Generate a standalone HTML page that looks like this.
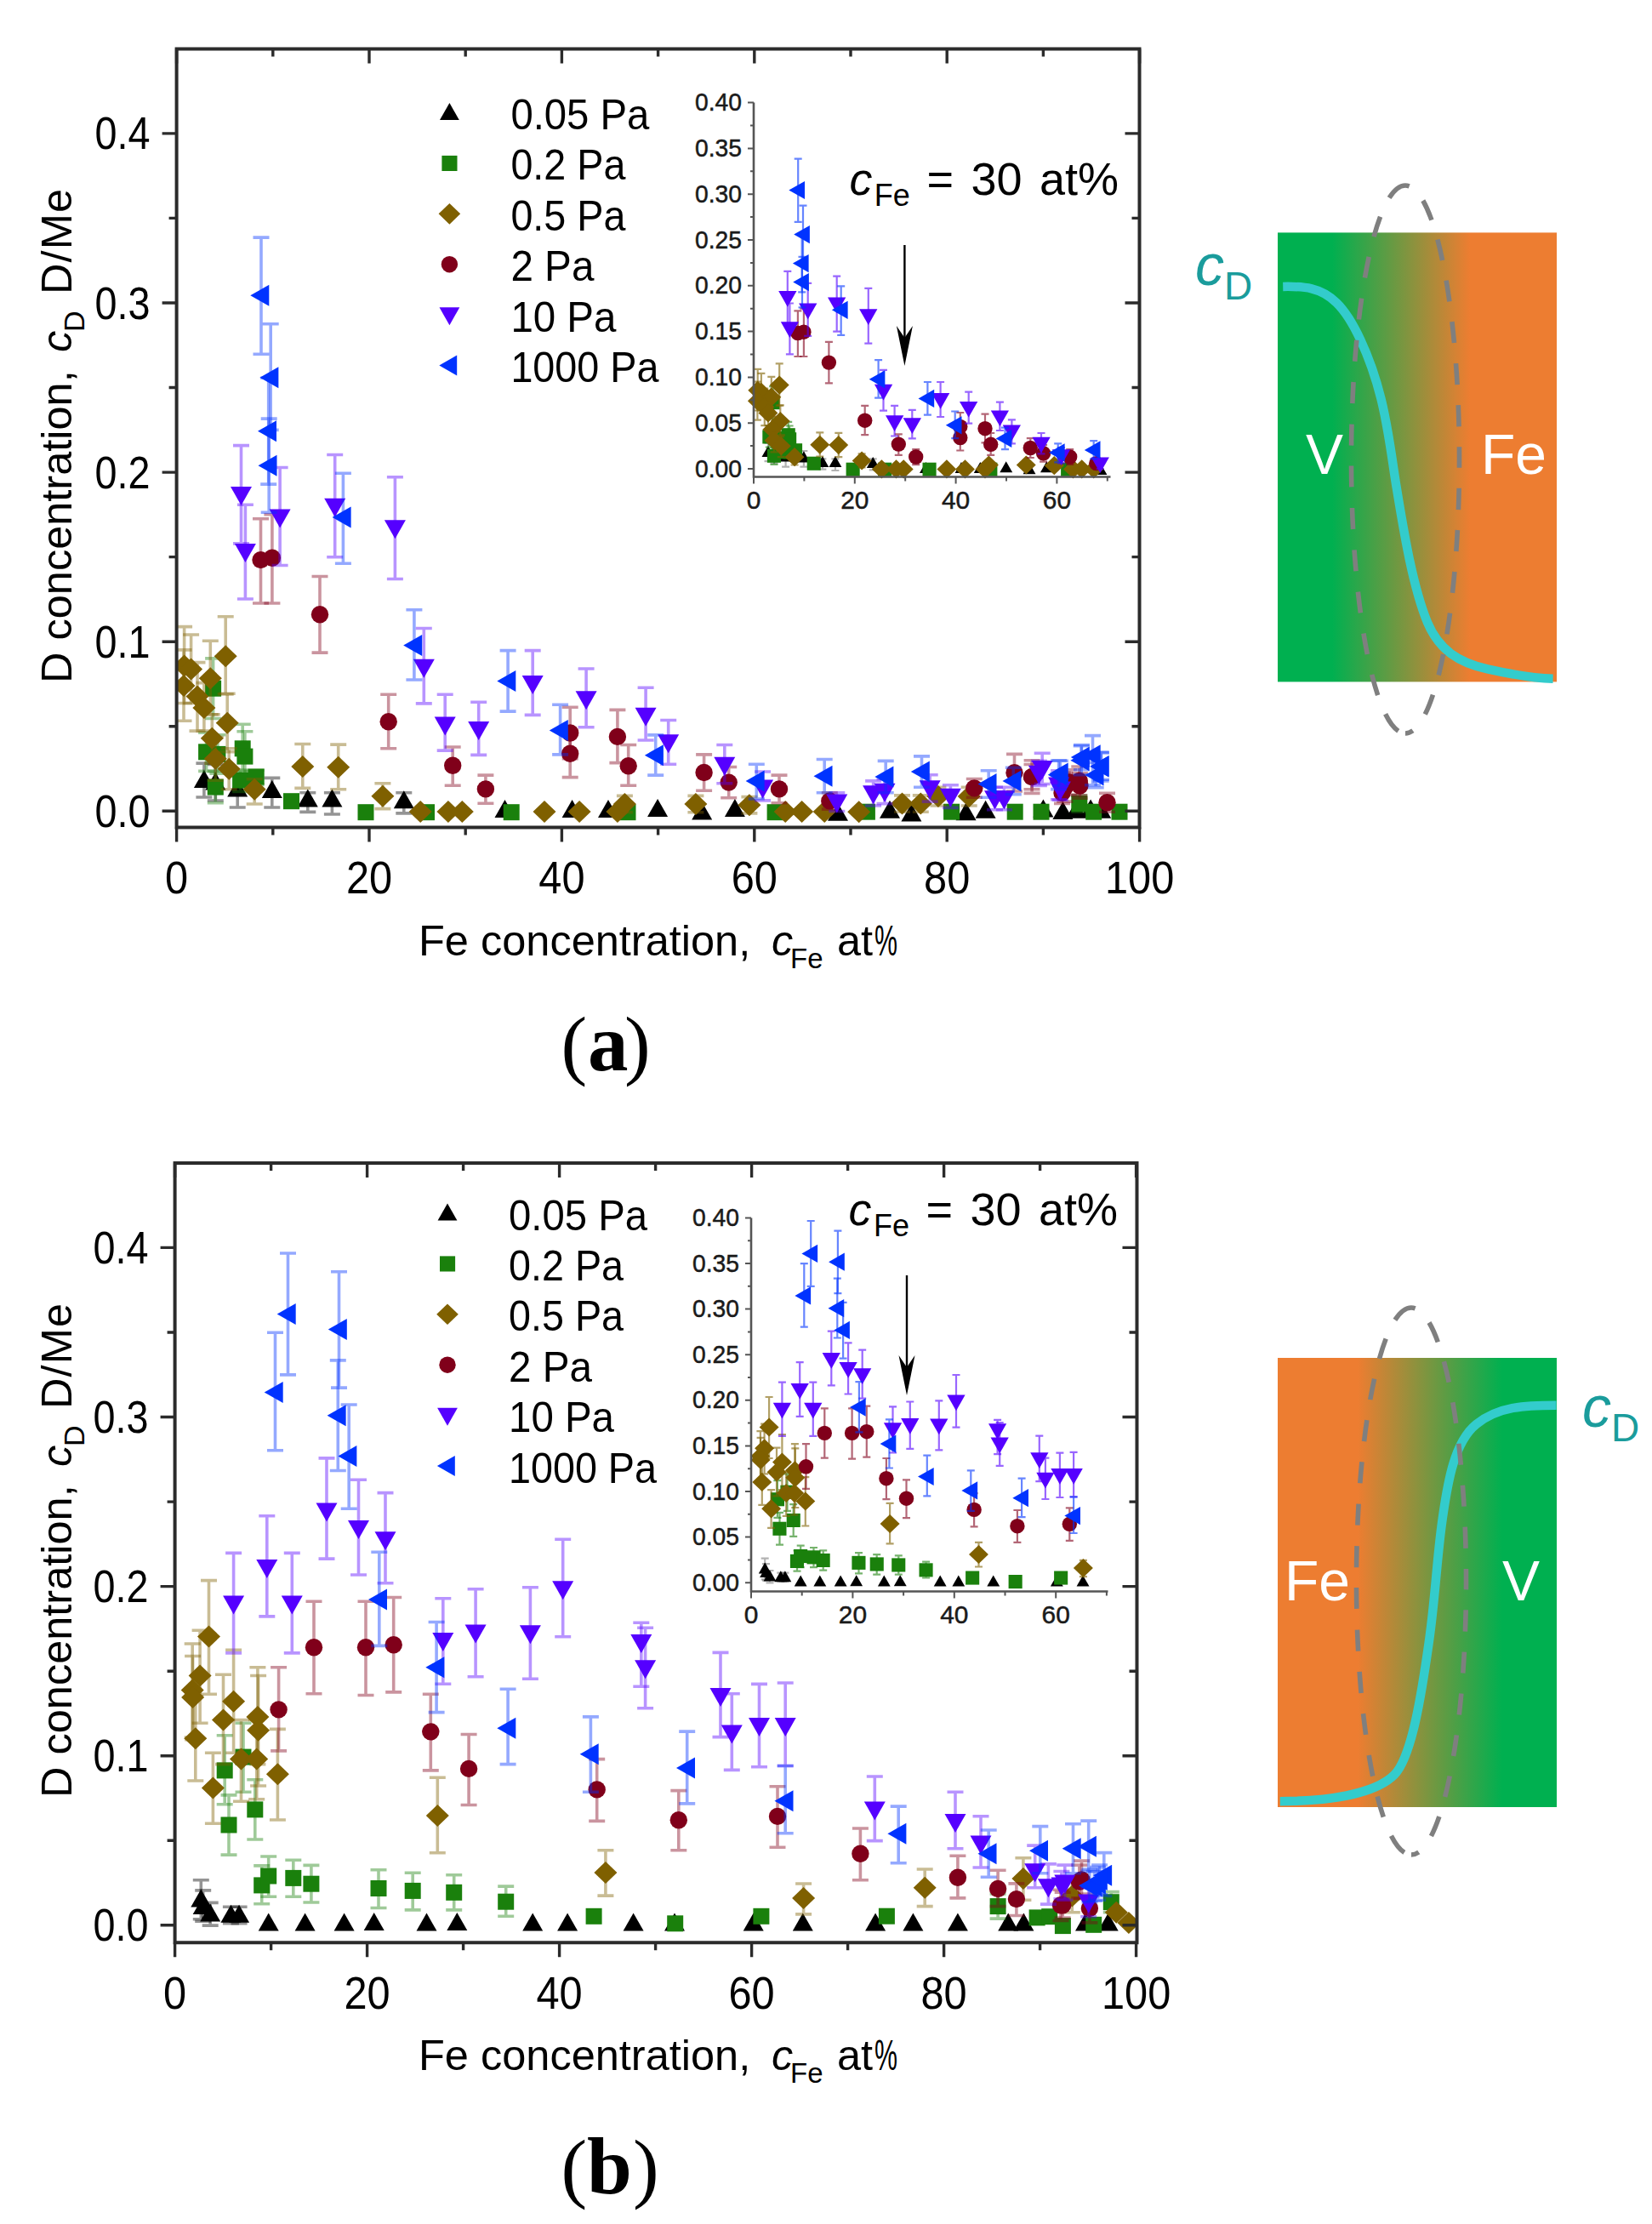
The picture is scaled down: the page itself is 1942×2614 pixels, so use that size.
<!DOCTYPE html>
<html lang="en"><head><meta charset="utf-8"><title>D concentration vs Fe concentration</title>
<style>
html,body{margin:0;padding:0;background:#fff}
body{width:1942px;height:2614px;overflow:hidden;font-family:"Liberation Sans", sans-serif}
svg{display:block}
text{white-space:pre}
</style></head><body>
<svg width="1942" height="2614" viewBox="0 0 1942 2614" font-family='"Liberation Sans", sans-serif'>
<rect width="1942" height="2614" fill="#fff"/>
<g id="chart-a"><clipPath id="clipa"><rect x="207.6" y="57.5" width="1131.9" height="915.0"/></clipPath><g clip-path="url(#clipa)">
<path d="M239.9 897.1V937.0M230.4 897.1H249.4M230.4 937.0H249.4" stroke="#000000" stroke-width="3.6" stroke-opacity="0.42" fill="none"/>
<path d="M253.3 898.4V941.0M243.8 898.4H262.8M243.8 941.0H262.8" stroke="#000000" stroke-width="3.6" stroke-opacity="0.42" fill="none"/>
<path d="M279.2 911.7V949.0M269.7 911.7H288.7M269.7 949.0H288.7" stroke="#000000" stroke-width="3.6" stroke-opacity="0.42" fill="none"/>
<path d="M319.8 914.4V949.0M310.3 914.4H329.3M310.3 949.0H329.3" stroke="#000000" stroke-width="3.6" stroke-opacity="0.42" fill="none"/>
<path d="M361.8 931.7V954.4M352.3 931.7H371.3M352.3 954.4H371.3" stroke="#000000" stroke-width="3.6" stroke-opacity="0.42" fill="none"/>
<path d="M390.4 931.7V957.0M380.9 931.7H399.9M380.9 957.0H399.9" stroke="#000000" stroke-width="3.6" stroke-opacity="0.42" fill="none"/>
<path d="M474.8 931.7V955.9M465.3 931.7H484.3M465.3 955.9H484.3" stroke="#000000" stroke-width="3.6" stroke-opacity="0.42" fill="none"/>
<path d="M227.9 925.9L251.9 925.9L239.9 904.9Z" fill="#000000"/>
<path d="M241.3 928.6L265.3 928.6L253.3 907.6Z" fill="#000000"/>
<path d="M267.2 936.5L291.2 936.5L279.2 915.5Z" fill="#000000"/>
<path d="M307.8 937.9L331.8 937.9L319.8 916.9Z" fill="#000000"/>
<path d="M349.8 948.5L373.8 948.5L361.8 927.5Z" fill="#000000"/>
<path d="M378.4 948.5L402.4 948.5L390.4 927.5Z" fill="#000000"/>
<path d="M462.8 950.2L486.8 950.2L474.8 929.2Z" fill="#000000"/>
<path d="M581.5 961.1L605.5 961.1L593.5 940.1Z" fill="#000000"/>
<path d="M660.6 961.1L684.6 961.1L672.6 940.1Z" fill="#000000"/>
<path d="M703.0 961.1L727.0 961.1L715.0 940.1Z" fill="#000000"/>
<path d="M761.1 959.9L785.1 959.9L773.1 938.9Z" fill="#000000"/>
<path d="M813.2 963.5L837.2 963.5L825.2 942.5Z" fill="#000000"/>
<path d="M851.9 959.9L875.9 959.9L863.9 938.9Z" fill="#000000"/>
<path d="M973.0 964.8L997.0 964.8L985.0 943.8Z" fill="#000000"/>
<path d="M1034.0 961.8L1058.0 961.8L1046.0 940.8Z" fill="#000000"/>
<path d="M1059.4 965.5L1083.4 965.5L1071.4 944.5Z" fill="#000000"/>
<path d="M1123.6 964.3L1147.6 964.3L1135.6 943.3Z" fill="#000000"/>
<path d="M1146.6 961.8L1170.6 961.8L1158.6 940.8Z" fill="#000000"/>
<path d="M1214.4 960.6L1238.4 960.6L1226.4 939.6Z" fill="#000000"/>
<path d="M1237.4 963.1L1261.4 963.1L1249.4 942.1Z" fill="#000000"/>
<path d="M1253.1 961.8L1277.1 961.8L1265.1 940.8Z" fill="#000000"/>
<path d="M1270.1 960.6L1294.1 960.6L1282.1 939.6Z" fill="#000000"/>
<path d="M1282.2 961.8L1306.2 961.8L1294.2 940.8Z" fill="#000000"/>
<path d="M250.6 773.9V844.5M241.1 773.9H260.1M241.1 844.5H260.1" stroke="#1a800c" stroke-width="3.6" stroke-opacity="0.42" fill="none"/>
<path d="M242.6 861.1V906.4M233.1 861.1H252.1M233.1 906.4H252.1" stroke="#1a800c" stroke-width="3.6" stroke-opacity="0.42" fill="none"/>
<path d="M255.9 863.8V909.1M246.4 863.8H265.4M246.4 909.1H265.4" stroke="#1a800c" stroke-width="3.6" stroke-opacity="0.42" fill="none"/>
<path d="M285.2 851.2V906.4M275.7 851.2H294.7M275.7 906.4H294.7" stroke="#1a800c" stroke-width="3.6" stroke-opacity="0.42" fill="none"/>
<path d="M287.9 859.8V917.1M278.4 859.8H297.4M278.4 917.1H297.4" stroke="#1a800c" stroke-width="3.6" stroke-opacity="0.42" fill="none"/>
<path d="M253.3 906.4V943.7M243.8 906.4H262.8M243.8 943.7H262.8" stroke="#1a800c" stroke-width="3.6" stroke-opacity="0.42" fill="none"/>
<path d="M282.6 905.1V930.4M273.1 905.1H292.1M273.1 930.4H292.1" stroke="#1a800c" stroke-width="3.6" stroke-opacity="0.42" fill="none"/>
<path d="M301.2 905.1V922.4M291.7 905.1H310.7M291.7 922.4H310.7" stroke="#1a800c" stroke-width="3.6" stroke-opacity="0.42" fill="none"/>
<path d="M1268.8 934.9V954.2M1259.3 934.9H1278.3M1259.3 954.2H1278.3" stroke="#1a800c" stroke-width="3.6" stroke-opacity="0.42" fill="none"/>
<rect x="241.1" y="799.7" width="19.0" height="19.0" fill="#1a800c"/>
<rect x="233.1" y="874.3" width="19.0" height="19.0" fill="#1a800c"/>
<rect x="246.4" y="876.9" width="19.0" height="19.0" fill="#1a800c"/>
<rect x="275.7" y="870.3" width="19.0" height="19.0" fill="#1a800c"/>
<rect x="278.4" y="879.6" width="19.0" height="19.0" fill="#1a800c"/>
<rect x="243.8" y="915.6" width="19.0" height="19.0" fill="#1a800c"/>
<rect x="273.1" y="907.6" width="19.0" height="19.0" fill="#1a800c"/>
<rect x="291.7" y="903.6" width="19.0" height="19.0" fill="#1a800c"/>
<rect x="333.0" y="932.2" width="19.0" height="19.0" fill="#1a800c"/>
<rect x="420.5" y="945.2" width="19.0" height="19.0" fill="#1a800c"/>
<rect x="492.0" y="945.2" width="19.0" height="19.0" fill="#1a800c"/>
<rect x="591.7" y="945.2" width="19.0" height="19.0" fill="#1a800c"/>
<rect x="728.5" y="945.2" width="19.0" height="19.0" fill="#1a800c"/>
<rect x="901.6" y="945.2" width="19.0" height="19.0" fill="#1a800c"/>
<rect x="1009.9" y="944.7" width="19.0" height="19.0" fill="#1a800c"/>
<rect x="1109.1" y="944.7" width="19.0" height="19.0" fill="#1a800c"/>
<rect x="1183.7" y="944.7" width="19.0" height="19.0" fill="#1a800c"/>
<rect x="1214.5" y="944.7" width="19.0" height="19.0" fill="#1a800c"/>
<rect x="1259.3" y="935.1" width="19.0" height="19.0" fill="#1a800c"/>
<rect x="1306.5" y="944.7" width="19.0" height="19.0" fill="#1a800c"/>
<rect x="1276.2" y="944.7" width="19.0" height="19.0" fill="#1a800c"/>
<path d="M216.6 736.6V826.5M207.1 736.6H226.1M207.1 826.5H226.1" stroke="#7f6000" stroke-width="3.6" stroke-opacity="0.42" fill="none"/>
<path d="M224.6 746.0V826.5M215.1 746.0H234.1M215.1 826.5H234.1" stroke="#7f6000" stroke-width="3.6" stroke-opacity="0.42" fill="none"/>
<path d="M216.0 763.9V847.2M206.5 763.9H225.5M206.5 847.2H225.5" stroke="#7f6000" stroke-width="3.6" stroke-opacity="0.42" fill="none"/>
<path d="M247.3 753.3V839.8M237.8 753.3H256.8M237.8 839.8H256.8" stroke="#7f6000" stroke-width="3.6" stroke-opacity="0.42" fill="none"/>
<path d="M265.2 724.7V815.9M255.7 724.7H274.7M255.7 815.9H274.7" stroke="#7f6000" stroke-width="3.6" stroke-opacity="0.42" fill="none"/>
<path d="M232.0 778.6V859.1M222.5 778.6H241.5M222.5 859.1H241.5" stroke="#7f6000" stroke-width="3.6" stroke-opacity="0.42" fill="none"/>
<path d="M239.9 802.6V859.1M230.4 802.6H249.4M230.4 859.1H249.4" stroke="#7f6000" stroke-width="3.6" stroke-opacity="0.42" fill="none"/>
<path d="M267.2 815.2V883.8M257.7 815.2H276.7M257.7 883.8H276.7" stroke="#7f6000" stroke-width="3.6" stroke-opacity="0.42" fill="none"/>
<path d="M249.3 839.8V897.1M239.8 839.8H258.8M239.8 897.1H258.8" stroke="#7f6000" stroke-width="3.6" stroke-opacity="0.42" fill="none"/>
<path d="M253.3 866.5V917.1M243.8 866.5H262.8M243.8 917.1H262.8" stroke="#7f6000" stroke-width="3.6" stroke-opacity="0.42" fill="none"/>
<path d="M269.2 879.8V927.7M259.7 879.8H278.7M259.7 927.7H278.7" stroke="#7f6000" stroke-width="3.6" stroke-opacity="0.42" fill="none"/>
<path d="M299.2 915.7V945.0M289.7 915.7H308.7M289.7 945.0H308.7" stroke="#7f6000" stroke-width="3.6" stroke-opacity="0.42" fill="none"/>
<path d="M355.8 874.5V926.4M346.3 874.5H365.3M346.3 926.4H365.3" stroke="#7f6000" stroke-width="3.6" stroke-opacity="0.42" fill="none"/>
<path d="M397.7 875.1V927.7M388.2 875.1H407.2M388.2 927.7H407.2" stroke="#7f6000" stroke-width="3.6" stroke-opacity="0.42" fill="none"/>
<path d="M449.9 920.8V950.6M440.4 920.8H459.4M440.4 950.6H459.4" stroke="#7f6000" stroke-width="3.6" stroke-opacity="0.42" fill="none"/>
<path d="M734.4 935.4V954.7M724.9 935.4H743.9M724.9 954.7H743.9" stroke="#7f6000" stroke-width="3.6" stroke-opacity="0.42" fill="none"/>
<path d="M817.9 935.4V954.7M808.4 935.4H827.4M808.4 954.7H827.4" stroke="#7f6000" stroke-width="3.6" stroke-opacity="0.42" fill="none"/>
<path d="M880.9 936.6V955.9M871.4 936.6H890.4M871.4 955.9H890.4" stroke="#7f6000" stroke-width="3.6" stroke-opacity="0.42" fill="none"/>
<path d="M1060.5 934.9V954.2M1051.0 934.9H1070.0M1051.0 954.2H1070.0" stroke="#7f6000" stroke-width="3.6" stroke-opacity="0.42" fill="none"/>
<path d="M1082.3 934.9V954.2M1072.8 934.9H1091.8M1072.8 954.2H1091.8" stroke="#7f6000" stroke-width="3.6" stroke-opacity="0.42" fill="none"/>
<path d="M1102.9 925.2V947.0M1093.4 925.2H1112.4M1093.4 947.0H1112.4" stroke="#7f6000" stroke-width="3.6" stroke-opacity="0.42" fill="none"/>
<path d="M1139.2 925.2V947.0M1129.7 925.2H1148.7M1129.7 947.0H1148.7" stroke="#7f6000" stroke-width="3.6" stroke-opacity="0.42" fill="none"/>
<path d="M203.1 782.6L216.6 769.6L230.1 782.6L216.6 795.6Z" fill="#7f6000"/>
<path d="M211.1 786.6L224.6 773.6L238.1 786.6L224.6 799.6Z" fill="#7f6000"/>
<path d="M202.5 805.9L216.0 792.9L229.5 805.9L216.0 818.9Z" fill="#7f6000"/>
<path d="M233.8 797.2L247.3 784.2L260.8 797.2L247.3 810.2Z" fill="#7f6000"/>
<path d="M251.7 771.3L265.2 758.3L278.7 771.3L265.2 784.3Z" fill="#7f6000"/>
<path d="M218.5 818.5L232.0 805.5L245.5 818.5L232.0 831.5Z" fill="#7f6000"/>
<path d="M226.4 831.9L239.9 818.9L253.4 831.9L239.9 844.9Z" fill="#7f6000"/>
<path d="M253.7 849.8L267.2 836.8L280.7 849.8L267.2 862.8Z" fill="#7f6000"/>
<path d="M235.8 867.8L249.3 854.8L262.8 867.8L249.3 880.8Z" fill="#7f6000"/>
<path d="M239.8 891.8L253.3 878.8L266.8 891.8L253.3 904.8Z" fill="#7f6000"/>
<path d="M255.7 903.8L269.2 890.8L282.7 903.8L269.2 916.8Z" fill="#7f6000"/>
<path d="M285.7 927.7L299.2 914.7L312.7 927.7L299.2 940.7Z" fill="#7f6000"/>
<path d="M342.3 901.1L355.8 888.1L369.3 901.1L355.8 914.1Z" fill="#7f6000"/>
<path d="M384.2 901.8L397.7 888.8L411.2 901.8L397.7 914.8Z" fill="#7f6000"/>
<path d="M436.4 935.8L449.9 922.8L463.4 935.8L449.9 948.8Z" fill="#7f6000"/>
<path d="M480.7 954.0L494.2 941.0L507.7 954.0L494.2 967.0Z" fill="#7f6000"/>
<path d="M513.4 954.0L526.9 941.0L540.4 954.0L526.9 967.0Z" fill="#7f6000"/>
<path d="M529.8 954.0L543.3 941.0L556.8 954.0L543.3 967.0Z" fill="#7f6000"/>
<path d="M626.5 954.0L640.0 941.0L653.5 954.0L640.0 967.0Z" fill="#7f6000"/>
<path d="M667.6 954.0L681.1 941.0L694.6 954.0L681.1 967.0Z" fill="#7f6000"/>
<path d="M712.4 954.0L725.9 941.0L739.4 954.0L725.9 967.0Z" fill="#7f6000"/>
<path d="M720.9 945.0L734.4 932.0L747.9 945.0L734.4 958.0Z" fill="#7f6000"/>
<path d="M804.4 945.0L817.9 932.0L831.4 945.0L817.9 958.0Z" fill="#7f6000"/>
<path d="M867.4 946.2L880.9 933.2L894.4 946.2L880.9 959.2Z" fill="#7f6000"/>
<path d="M909.7 954.0L923.2 941.0L936.7 954.0L923.2 967.0Z" fill="#7f6000"/>
<path d="M929.1 954.0L942.6 941.0L956.1 954.0L942.6 967.0Z" fill="#7f6000"/>
<path d="M955.7 954.0L969.2 941.0L982.7 954.0L969.2 967.0Z" fill="#7f6000"/>
<path d="M996.2 954.2L1009.7 941.2L1023.2 954.2L1009.7 967.2Z" fill="#7f6000"/>
<path d="M1047.0 944.6L1060.5 931.6L1074.0 944.6L1060.5 957.6Z" fill="#7f6000"/>
<path d="M1068.8 944.6L1082.3 931.6L1095.8 944.6L1082.3 957.6Z" fill="#7f6000"/>
<path d="M1089.4 936.1L1102.9 923.1L1116.4 936.1L1102.9 949.1Z" fill="#7f6000"/>
<path d="M1125.7 936.1L1139.2 923.1L1152.7 936.1L1139.2 949.1Z" fill="#7f6000"/>
<path d="M306.5 609.7V709.0M297.0 609.7H316.0M297.0 709.0H316.0" stroke="#80001a" stroke-width="3.6" stroke-opacity="0.42" fill="none"/>
<path d="M319.9 604.8V709.0M310.4 604.8H329.4M310.4 709.0H329.4" stroke="#80001a" stroke-width="3.6" stroke-opacity="0.42" fill="none"/>
<path d="M376.0 677.5V767.1M366.5 677.5H385.5M366.5 767.1H385.5" stroke="#80001a" stroke-width="3.6" stroke-opacity="0.42" fill="none"/>
<path d="M456.7 816.2V879.7M447.2 816.2H466.2M447.2 879.7H466.2" stroke="#80001a" stroke-width="3.6" stroke-opacity="0.42" fill="none"/>
<path d="M532.2 878.0V923.2M522.7 878.0H541.7M522.7 923.2H541.7" stroke="#80001a" stroke-width="3.6" stroke-opacity="0.42" fill="none"/>
<path d="M570.9 911.1V944.3M561.4 911.1H580.4M561.4 944.3H580.4" stroke="#80001a" stroke-width="3.6" stroke-opacity="0.42" fill="none"/>
<path d="M670.2 831.2V891.8M660.7 831.2H679.7M660.7 891.8H679.7" stroke="#80001a" stroke-width="3.6" stroke-opacity="0.42" fill="none"/>
<path d="M670.2 857.9V913.6M660.7 857.9H679.7M660.7 913.6H679.7" stroke="#80001a" stroke-width="3.6" stroke-opacity="0.42" fill="none"/>
<path d="M725.9 834.4V896.6M716.4 834.4H735.4M716.4 896.6H735.4" stroke="#80001a" stroke-width="3.6" stroke-opacity="0.42" fill="none"/>
<path d="M738.7 875.5V923.2M729.2 875.5H748.2M729.2 923.2H748.2" stroke="#80001a" stroke-width="3.6" stroke-opacity="0.42" fill="none"/>
<path d="M827.6 886.9V929.3M818.1 886.9H837.1M818.1 929.3H837.1" stroke="#80001a" stroke-width="3.6" stroke-opacity="0.42" fill="none"/>
<path d="M856.7 901.5V937.8M847.2 901.5H866.2M847.2 937.8H866.2" stroke="#80001a" stroke-width="3.6" stroke-opacity="0.42" fill="none"/>
<path d="M916.0 911.1V943.8M906.5 911.1H925.5M906.5 943.8H925.5" stroke="#80001a" stroke-width="3.6" stroke-opacity="0.42" fill="none"/>
<path d="M975.3 931.7V951.1M965.8 931.7H984.8M965.8 951.1H984.8" stroke="#80001a" stroke-width="3.6" stroke-opacity="0.42" fill="none"/>
<path d="M1145.3 915.5V937.3M1135.8 915.5H1154.8M1135.8 937.3H1154.8" stroke="#80001a" stroke-width="3.6" stroke-opacity="0.42" fill="none"/>
<path d="M1192.5 886.4V930.0M1183.0 886.4H1202.0M1183.0 930.0H1202.0" stroke="#80001a" stroke-width="3.6" stroke-opacity="0.42" fill="none"/>
<path d="M1213.1 893.7V932.4M1203.6 893.7H1222.6M1203.6 932.4H1222.6" stroke="#80001a" stroke-width="3.6" stroke-opacity="0.42" fill="none"/>
<path d="M1251.8 908.2V942.1M1242.3 908.2H1261.3M1242.3 942.1H1261.3" stroke="#80001a" stroke-width="3.6" stroke-opacity="0.42" fill="none"/>
<path d="M1268.8 901.0V934.9M1259.3 901.0H1278.3M1259.3 934.9H1278.3" stroke="#80001a" stroke-width="3.6" stroke-opacity="0.42" fill="none"/>
<path d="M1301.5 932.4V954.2M1292.0 932.4H1311.0M1292.0 954.2H1311.0" stroke="#80001a" stroke-width="3.6" stroke-opacity="0.42" fill="none"/>
<path d="M1213.0 898.5V927.7M1203.5 898.5H1222.5M1203.5 927.7H1222.5" stroke="#80001a" stroke-width="3.6" stroke-opacity="0.42" fill="none"/>
<path d="M1256.9 904.7V934.0M1247.4 904.7H1266.4M1247.4 934.0H1266.4" stroke="#80001a" stroke-width="3.6" stroke-opacity="0.42" fill="none"/>
<path d="M1269.4 908.9V938.2M1259.9 908.9H1278.9M1259.9 938.2H1278.9" stroke="#80001a" stroke-width="3.6" stroke-opacity="0.42" fill="none"/>
<path d="M1248.5 919.4V944.4M1239.0 919.4H1258.0M1239.0 944.4H1258.0" stroke="#80001a" stroke-width="3.6" stroke-opacity="0.42" fill="none"/>
<circle cx="306.5" cy="658.1" r="10.2" fill="#80001a"/>
<circle cx="319.9" cy="655.7" r="10.2" fill="#80001a"/>
<circle cx="376.0" cy="722.3" r="10.2" fill="#80001a"/>
<circle cx="456.7" cy="848.2" r="10.2" fill="#80001a"/>
<circle cx="532.2" cy="899.8" r="10.2" fill="#80001a"/>
<circle cx="570.9" cy="927.4" r="10.2" fill="#80001a"/>
<circle cx="670.2" cy="861.5" r="10.2" fill="#80001a"/>
<circle cx="670.2" cy="885.7" r="10.2" fill="#80001a"/>
<circle cx="725.9" cy="865.9" r="10.2" fill="#80001a"/>
<circle cx="738.7" cy="900.2" r="10.2" fill="#80001a"/>
<circle cx="827.6" cy="908.0" r="10.2" fill="#80001a"/>
<circle cx="856.7" cy="919.6" r="10.2" fill="#80001a"/>
<circle cx="916.0" cy="927.4" r="10.2" fill="#80001a"/>
<circle cx="975.3" cy="941.4" r="10.2" fill="#80001a"/>
<circle cx="1145.3" cy="926.4" r="10.2" fill="#80001a"/>
<circle cx="1192.5" cy="908.2" r="10.2" fill="#80001a"/>
<circle cx="1213.1" cy="913.1" r="10.2" fill="#80001a"/>
<circle cx="1251.8" cy="925.2" r="10.2" fill="#80001a"/>
<circle cx="1268.8" cy="917.9" r="10.2" fill="#80001a"/>
<circle cx="1301.5" cy="943.3" r="10.2" fill="#80001a"/>
<circle cx="1213.0" cy="913.1" r="10.2" fill="#80001a"/>
<circle cx="1256.9" cy="919.4" r="10.2" fill="#80001a"/>
<circle cx="1269.4" cy="923.5" r="10.2" fill="#80001a"/>
<circle cx="1248.5" cy="931.9" r="10.2" fill="#80001a"/>
<path d="M283.5 523.6V638.9M274.0 523.6H293.0M274.0 638.9H293.0" stroke="#5500ff" stroke-width="3.6" stroke-opacity="0.42" fill="none"/>
<path d="M288.4 593.3V704.0M278.9 593.3H297.9M278.9 704.0H297.9" stroke="#5500ff" stroke-width="3.6" stroke-opacity="0.42" fill="none"/>
<path d="M329.1 549.5V664.5M319.6 549.5H338.6M319.6 664.5H338.6" stroke="#5500ff" stroke-width="3.6" stroke-opacity="0.42" fill="none"/>
<path d="M393.7 534.5V654.8M384.2 534.5H403.2M384.2 654.8H403.2" stroke="#5500ff" stroke-width="3.6" stroke-opacity="0.42" fill="none"/>
<path d="M464.4 560.7V680.5M454.9 560.7H473.9M454.9 680.5H473.9" stroke="#5500ff" stroke-width="3.6" stroke-opacity="0.42" fill="none"/>
<path d="M498.3 738.5V826.9M488.8 738.5H507.8M488.8 826.9H507.8" stroke="#5500ff" stroke-width="3.6" stroke-opacity="0.42" fill="none"/>
<path d="M523.2 816.2V882.1M513.7 816.2H532.7M513.7 882.1H532.7" stroke="#5500ff" stroke-width="3.6" stroke-opacity="0.42" fill="none"/>
<path d="M562.7 825.2V887.4M553.2 825.2H572.2M553.2 887.4H572.2" stroke="#5500ff" stroke-width="3.6" stroke-opacity="0.42" fill="none"/>
<path d="M626.2 764.6V840.4M616.7 764.6H635.7M616.7 840.4H635.7" stroke="#5500ff" stroke-width="3.6" stroke-opacity="0.42" fill="none"/>
<path d="M689.1 786.0V854.7M679.6 786.0H698.6M679.6 854.7H698.6" stroke="#5500ff" stroke-width="3.6" stroke-opacity="0.42" fill="none"/>
<path d="M759.1 808.2V870.0M749.6 808.2H768.6M749.6 870.0H768.6" stroke="#5500ff" stroke-width="3.6" stroke-opacity="0.42" fill="none"/>
<path d="M785.7 846.5V898.3M776.2 846.5H795.2M776.2 898.3H795.2" stroke="#5500ff" stroke-width="3.6" stroke-opacity="0.42" fill="none"/>
<path d="M851.8 875.5V920.8M842.3 875.5H861.3M842.3 920.8H861.3" stroke="#5500ff" stroke-width="3.6" stroke-opacity="0.42" fill="none"/>
<path d="M896.6 907.0V940.9M887.1 907.0H906.1M887.1 940.9H906.1" stroke="#5500ff" stroke-width="3.6" stroke-opacity="0.42" fill="none"/>
<path d="M983.8 931.7V953.5M974.3 931.7H993.3M974.3 953.5H993.3" stroke="#5500ff" stroke-width="3.6" stroke-opacity="0.42" fill="none"/>
<path d="M1026.6 917.9V947.0M1017.1 917.9H1036.1M1017.1 947.0H1036.1" stroke="#5500ff" stroke-width="3.6" stroke-opacity="0.42" fill="none"/>
<path d="M1040.0 915.5V944.6M1030.5 915.5H1049.5M1030.5 944.6H1049.5" stroke="#5500ff" stroke-width="3.6" stroke-opacity="0.42" fill="none"/>
<path d="M1093.2 910.7V942.1M1083.7 910.7H1102.7M1083.7 942.1H1102.7" stroke="#5500ff" stroke-width="3.6" stroke-opacity="0.42" fill="none"/>
<path d="M1117.4 922.8V949.4M1107.9 922.8H1126.9M1107.9 949.4H1126.9" stroke="#5500ff" stroke-width="3.6" stroke-opacity="0.42" fill="none"/>
<path d="M1169.5 925.2V951.8M1160.0 925.2H1179.0M1160.0 951.8H1179.0" stroke="#5500ff" stroke-width="3.6" stroke-opacity="0.42" fill="none"/>
<path d="M1180.4 925.2V951.8M1170.9 925.2H1189.9M1170.9 951.8H1189.9" stroke="#5500ff" stroke-width="3.6" stroke-opacity="0.42" fill="none"/>
<path d="M1225.2 885.2V921.5M1215.7 885.2H1234.7M1215.7 921.5H1234.7" stroke="#5500ff" stroke-width="3.6" stroke-opacity="0.42" fill="none"/>
<path d="M1244.6 905.8V939.7M1235.1 905.8H1254.1M1235.1 939.7H1254.1" stroke="#5500ff" stroke-width="3.6" stroke-opacity="0.42" fill="none"/>
<path d="M1221.4 894.3V923.5M1211.9 894.3H1230.9M1211.9 923.5H1230.9" stroke="#5500ff" stroke-width="3.6" stroke-opacity="0.42" fill="none"/>
<path d="M1246.4 915.2V940.3M1236.9 915.2H1255.9M1236.9 940.3H1255.9" stroke="#5500ff" stroke-width="3.6" stroke-opacity="0.42" fill="none"/>
<path d="M271.0 572.0L296.0 572.0L283.5 594.0Z" fill="#5500ff"/>
<path d="M275.9 639.1L300.9 639.1L288.4 661.1Z" fill="#5500ff"/>
<path d="M316.6 598.6L341.6 598.6L329.1 620.6Z" fill="#5500ff"/>
<path d="M381.2 585.8L406.2 585.8L393.7 607.8Z" fill="#5500ff"/>
<path d="M451.9 611.2L476.9 611.2L464.4 633.2Z" fill="#5500ff"/>
<path d="M485.8 774.8L510.8 774.8L498.3 796.8Z" fill="#5500ff"/>
<path d="M510.7 842.6L535.7 842.6L523.2 864.6Z" fill="#5500ff"/>
<path d="M550.2 848.1L575.2 848.1L562.7 870.1Z" fill="#5500ff"/>
<path d="M613.7 794.1L638.7 794.1L626.2 816.1Z" fill="#5500ff"/>
<path d="M676.6 812.3L701.6 812.3L689.1 834.3Z" fill="#5500ff"/>
<path d="M746.6 831.7L771.6 831.7L759.1 853.7Z" fill="#5500ff"/>
<path d="M773.2 863.2L798.2 863.2L785.7 885.2Z" fill="#5500ff"/>
<path d="M839.3 889.8L864.3 889.8L851.8 911.8Z" fill="#5500ff"/>
<path d="M884.1 916.4L909.1 916.4L896.6 938.4Z" fill="#5500ff"/>
<path d="M971.3 933.4L996.3 933.4L983.8 955.4Z" fill="#5500ff"/>
<path d="M1014.1 923.2L1039.1 923.2L1026.6 945.2Z" fill="#5500ff"/>
<path d="M1027.5 920.8L1052.5 920.8L1040.0 942.8Z" fill="#5500ff"/>
<path d="M1080.7 917.2L1105.7 917.2L1093.2 939.2Z" fill="#5500ff"/>
<path d="M1104.9 926.8L1129.9 926.8L1117.4 948.8Z" fill="#5500ff"/>
<path d="M1157.0 929.3L1182.0 929.3L1169.5 951.3Z" fill="#5500ff"/>
<path d="M1167.9 929.3L1192.9 929.3L1180.4 951.3Z" fill="#5500ff"/>
<path d="M1212.7 894.1L1237.7 894.1L1225.2 916.1Z" fill="#5500ff"/>
<path d="M1232.1 913.5L1257.1 913.5L1244.6 935.5Z" fill="#5500ff"/>
<path d="M1208.9 899.7L1233.9 899.7L1221.4 921.7Z" fill="#5500ff"/>
<path d="M1233.9 918.5L1258.9 918.5L1246.4 940.5Z" fill="#5500ff"/>
<path d="M307.0 279.1V416.3M297.5 279.1H316.5M297.5 416.3H316.5" stroke="#0033ff" stroke-width="3.6" stroke-opacity="0.42" fill="none"/>
<path d="M318.2 380.8V505.4M308.7 380.8H327.7M308.7 505.4H327.7" stroke="#0033ff" stroke-width="3.6" stroke-opacity="0.42" fill="none"/>
<path d="M315.7 444.2V569.1M306.2 444.2H325.2M306.2 569.1H325.2" stroke="#0033ff" stroke-width="3.6" stroke-opacity="0.42" fill="none"/>
<path d="M316.2 492.1V602.3M306.7 492.1H325.7M306.7 602.3H325.7" stroke="#0033ff" stroke-width="3.6" stroke-opacity="0.42" fill="none"/>
<path d="M403.4 556.3V662.3M393.9 556.3H412.9M393.9 662.3H412.9" stroke="#0033ff" stroke-width="3.6" stroke-opacity="0.42" fill="none"/>
<path d="M486.9 716.7V799.0M477.4 716.7H496.4M477.4 799.0H496.4" stroke="#0033ff" stroke-width="3.6" stroke-opacity="0.42" fill="none"/>
<path d="M597.1 764.6V836.1M587.6 764.6H606.6M587.6 836.1H606.6" stroke="#0033ff" stroke-width="3.6" stroke-opacity="0.42" fill="none"/>
<path d="M658.6 828.3V886.9M649.1 828.3H668.1M649.1 886.9H668.1" stroke="#0033ff" stroke-width="3.6" stroke-opacity="0.42" fill="none"/>
<path d="M770.7 863.9V911.1M761.2 863.9H780.2M761.2 911.1H780.2" stroke="#0033ff" stroke-width="3.6" stroke-opacity="0.42" fill="none"/>
<path d="M889.3 898.3V939.0M879.8 898.3H898.8M879.8 939.0H898.8" stroke="#0033ff" stroke-width="3.6" stroke-opacity="0.42" fill="none"/>
<path d="M969.2 892.5V931.7M959.7 892.5H978.7M959.7 931.7H978.7" stroke="#0033ff" stroke-width="3.6" stroke-opacity="0.42" fill="none"/>
<path d="M1041.2 894.4V931.7M1031.7 894.4H1050.7M1031.7 931.7H1050.7" stroke="#0033ff" stroke-width="3.6" stroke-opacity="0.42" fill="none"/>
<path d="M1083.5 888.9V925.2M1074.0 888.9H1093.0M1074.0 925.2H1093.0" stroke="#0033ff" stroke-width="3.6" stroke-opacity="0.42" fill="none"/>
<path d="M1162.2 905.8V937.3M1152.7 905.8H1171.7M1152.7 937.3H1171.7" stroke="#0033ff" stroke-width="3.6" stroke-opacity="0.42" fill="none"/>
<path d="M1191.3 902.2V933.7M1181.8 902.2H1200.8M1181.8 933.7H1200.8" stroke="#0033ff" stroke-width="3.6" stroke-opacity="0.42" fill="none"/>
<path d="M1244.6 893.7V927.6M1235.1 893.7H1254.1M1235.1 927.6H1254.1" stroke="#0033ff" stroke-width="3.6" stroke-opacity="0.42" fill="none"/>
<path d="M1271.2 876.8V910.7M1261.7 876.8H1280.7M1261.7 910.7H1280.7" stroke="#0033ff" stroke-width="3.6" stroke-opacity="0.42" fill="none"/>
<path d="M1284.5 864.6V922.8M1275.0 864.6H1294.0M1275.0 922.8H1294.0" stroke="#0033ff" stroke-width="3.6" stroke-opacity="0.42" fill="none"/>
<path d="M1294.2 884.0V917.9M1284.7 884.0H1303.7M1284.7 917.9H1303.7" stroke="#0033ff" stroke-width="3.6" stroke-opacity="0.42" fill="none"/>
<path d="M1271.5 875.5V904.7M1262.0 875.5H1281.0M1262.0 904.7H1281.0" stroke="#0033ff" stroke-width="3.6" stroke-opacity="0.42" fill="none"/>
<path d="M1294.5 884.9V916.2M1285.0 884.9H1304.0M1285.0 916.2H1304.0" stroke="#0033ff" stroke-width="3.6" stroke-opacity="0.42" fill="none"/>
<path d="M1288.2 896.4V925.6M1278.7 896.4H1297.7M1278.7 925.6H1297.7" stroke="#0033ff" stroke-width="3.6" stroke-opacity="0.42" fill="none"/>
<path d="M1246.4 894.3V923.5M1236.9 894.3H1255.9M1236.9 923.5H1255.9" stroke="#0033ff" stroke-width="3.6" stroke-opacity="0.42" fill="none"/>
<path d="M316.3 334.8L316.3 359.8L294.3 347.3Z" fill="#0033ff"/>
<path d="M327.4 431.2L327.4 456.2L305.4 443.7Z" fill="#0033ff"/>
<path d="M325.0 494.2L325.0 519.2L303.0 506.7Z" fill="#0033ff"/>
<path d="M325.5 534.8L325.5 559.8L303.5 547.3Z" fill="#0033ff"/>
<path d="M412.6 595.4L412.6 620.4L390.6 607.9Z" fill="#0033ff"/>
<path d="M496.2 746.1L496.2 771.1L474.2 758.6Z" fill="#0033ff"/>
<path d="M606.3 788.0L606.3 813.0L584.3 800.5Z" fill="#0033ff"/>
<path d="M667.8 846.1L667.8 871.1L645.8 858.6Z" fill="#0033ff"/>
<path d="M779.9 875.2L779.9 900.2L757.9 887.7Z" fill="#0033ff"/>
<path d="M898.6 905.4L898.6 930.4L876.6 917.9Z" fill="#0033ff"/>
<path d="M978.5 899.8L978.5 924.8L956.5 912.3Z" fill="#0033ff"/>
<path d="M1050.4 900.6L1050.4 925.6L1028.4 913.1Z" fill="#0033ff"/>
<path d="M1092.8 894.5L1092.8 919.5L1070.8 907.0Z" fill="#0033ff"/>
<path d="M1171.5 909.0L1171.5 934.0L1149.5 921.5Z" fill="#0033ff"/>
<path d="M1200.5 905.4L1200.5 930.4L1178.5 917.9Z" fill="#0033ff"/>
<path d="M1253.8 898.2L1253.8 923.2L1231.8 910.7Z" fill="#0033ff"/>
<path d="M1280.4 881.2L1280.4 906.2L1258.4 893.7Z" fill="#0033ff"/>
<path d="M1293.7 875.2L1293.7 900.2L1271.7 887.7Z" fill="#0033ff"/>
<path d="M1303.4 888.5L1303.4 913.5L1281.4 901.0Z" fill="#0033ff"/>
<path d="M1280.8 877.6L1280.8 902.6L1258.8 890.1Z" fill="#0033ff"/>
<path d="M1303.7 888.1L1303.7 913.1L1281.7 900.6Z" fill="#0033ff"/>
<path d="M1297.5 898.5L1297.5 923.5L1275.5 911.0Z" fill="#0033ff"/>
<path d="M1255.7 896.4L1255.7 921.4L1233.7 908.9Z" fill="#0033ff"/>
</g>
<path d="M207.6 57.5H1339.5V972.5H207.6Z" fill="none" stroke="#2b2b2b" stroke-width="4"/>
<path d="M207.6 972.5v17M207.6 57.5v17M320.8 972.5v9M320.8 57.5v9M434.0 972.5v17M434.0 57.5v17M547.2 972.5v9M547.2 57.5v9M660.4 972.5v17M660.4 57.5v17M773.6 972.5v9M773.6 57.5v9M886.8 972.5v17M886.8 57.5v17M1000.0 972.5v9M1000.0 57.5v9M1113.2 972.5v17M1113.2 57.5v17M1226.4 972.5v9M1226.4 57.5v9M1339.6 972.5v17M1339.6 57.5v17M207.6 953.3h-17M1339.5 953.3h-17M207.6 853.8h-9M1339.5 853.8h-9M207.6 754.2h-17M1339.5 754.2h-17M207.6 654.6h-9M1339.5 654.6h-9M207.6 555.1h-17M1339.5 555.1h-17M207.6 455.5h-9M1339.5 455.5h-9M207.6 356.0h-17M1339.5 356.0h-17M207.6 256.4h-9M1339.5 256.4h-9M207.6 156.9h-17M1339.5 156.9h-17" stroke="#2b2b2b" stroke-width="3.4" fill="none"/>
<text x="207.6" y="1050.0" font-size="53" text-anchor="middle" fill="#000" textLength="27.1" lengthAdjust="spacingAndGlyphs">0</text>
<text x="434.0" y="1050.0" font-size="53" text-anchor="middle" fill="#000" textLength="54.2" lengthAdjust="spacingAndGlyphs">20</text>
<text x="660.4" y="1050.0" font-size="53" text-anchor="middle" fill="#000" textLength="54.2" lengthAdjust="spacingAndGlyphs">40</text>
<text x="886.8" y="1050.0" font-size="53" text-anchor="middle" fill="#000" textLength="54.2" lengthAdjust="spacingAndGlyphs">60</text>
<text x="1113.2" y="1050.0" font-size="53" text-anchor="middle" fill="#000" textLength="54.2" lengthAdjust="spacingAndGlyphs">80</text>
<text x="1339.6" y="1050.0" font-size="53" text-anchor="middle" fill="#000" textLength="81.3" lengthAdjust="spacingAndGlyphs">100</text>
<text x="176.6" y="971.8" font-size="53" text-anchor="end" fill="#000" textLength="65.0" lengthAdjust="spacingAndGlyphs">0.0</text>
<text x="176.6" y="772.7" font-size="53" text-anchor="end" fill="#000" textLength="65.0" lengthAdjust="spacingAndGlyphs">0.1</text>
<text x="176.6" y="573.6" font-size="53" text-anchor="end" fill="#000" textLength="65.0" lengthAdjust="spacingAndGlyphs">0.2</text>
<text x="176.6" y="374.5" font-size="53" text-anchor="end" fill="#000" textLength="65.0" lengthAdjust="spacingAndGlyphs">0.3</text>
<text x="176.6" y="175.4" font-size="53" text-anchor="end" fill="#000" textLength="65.0" lengthAdjust="spacingAndGlyphs">0.4</text>
<text x="492" y="1122.5" font-size="50.5">Fe concentration,</text>
<text x="907" y="1122.5" font-size="50.5" font-style="italic">c</text>
<text x="929" y="1137.5" font-size="33">Fe</text>
<text x="984" y="1122.5" font-size="50.5">at</text>
<text x="1028" y="1122.5" font-size="50.5" textLength="27" lengthAdjust="spacingAndGlyphs">%</text>
<g transform="translate(83.5 803) rotate(-90)"><text x="0" y="0" font-size="50.5">D concentration,</text><text x="389" y="0" font-size="50.5" font-style="italic">c</text><text x="413" y="15" font-size="34">D</text><text x="457" y="0" font-size="50.5" textLength="124" lengthAdjust="spacing">D/Me</text></g>
<path d="M517.0 140.9L539.8 140.9L528.4 120.9Z" fill="#000000"/>
<text x="600.4" y="152.0" font-size="50.7" text-anchor="start" fill="#000" textLength="163.0" lengthAdjust="spacingAndGlyphs">0.05 Pa</text>
<rect x="519.4" y="182.9" width="18.1" height="18.1" fill="#1a800c"/>
<text x="600.4" y="211.4" font-size="50.7" text-anchor="start" fill="#000" textLength="135.0" lengthAdjust="spacingAndGlyphs">0.2 Pa</text>
<path d="M515.6 251.3L528.4 239.0L541.2 251.3L528.4 263.7Z" fill="#7f6000"/>
<text x="600.4" y="270.8" font-size="50.7" text-anchor="start" fill="#000" textLength="135.0" lengthAdjust="spacingAndGlyphs">0.5 Pa</text>
<circle cx="528.4" cy="310.7" r="9.7" fill="#80001a"/>
<text x="600.4" y="330.2" font-size="50.7" text-anchor="start" fill="#000" textLength="98.0" lengthAdjust="spacingAndGlyphs">2 Pa</text>
<path d="M516.5 361.3L540.3 361.3L528.4 382.2Z" fill="#5500ff"/>
<text x="600.4" y="389.6" font-size="50.7" text-anchor="start" fill="#000" textLength="124.0" lengthAdjust="spacingAndGlyphs">10 Pa</text>
<path d="M537.2 417.6L537.2 441.4L516.3 429.5Z" fill="#0033ff"/>
<text x="600.4" y="449.0" font-size="50.7" text-anchor="start" fill="#000" textLength="174.0" lengthAdjust="spacingAndGlyphs">1000 Pa</text>
<path d="M903.0 520.6V542.2M898.5 520.6H907.5M898.5 542.2H907.5" stroke="#000000" stroke-width="2.2" stroke-opacity="0.3" fill="none"/>
<path d="M910.0 521.3V544.4M905.5 521.3H914.5M905.5 544.4H914.5" stroke="#000000" stroke-width="2.2" stroke-opacity="0.3" fill="none"/>
<path d="M923.6 528.5V548.7M919.1 528.5H928.1M919.1 548.7H928.1" stroke="#000000" stroke-width="2.2" stroke-opacity="0.3" fill="none"/>
<path d="M944.9 530.0V548.7M940.4 530.0H949.4M940.4 548.7H949.4" stroke="#000000" stroke-width="2.2" stroke-opacity="0.3" fill="none"/>
<path d="M966.9 539.3V551.6M962.4 539.3H971.4M962.4 551.6H971.4" stroke="#000000" stroke-width="2.2" stroke-opacity="0.3" fill="none"/>
<path d="M981.9 539.3V553.0M977.4 539.3H986.4M977.4 553.0H986.4" stroke="#000000" stroke-width="2.2" stroke-opacity="0.3" fill="none"/>
<path d="M1026.2 539.3V552.4M1021.7 539.3H1030.7M1021.7 552.4H1030.7" stroke="#000000" stroke-width="2.2" stroke-opacity="0.3" fill="none"/>
<path d="M895.5 536.9L910.4 536.9L903.0 523.9Z" fill="#000000"/>
<path d="M902.5 538.3L917.4 538.3L910.0 525.3Z" fill="#000000"/>
<path d="M916.1 542.6L931.0 542.6L923.6 529.6Z" fill="#000000"/>
<path d="M937.5 543.4L952.3 543.4L944.9 530.3Z" fill="#000000"/>
<path d="M959.5 549.1L974.3 549.1L966.9 536.1Z" fill="#000000"/>
<path d="M974.5 549.1L989.4 549.1L981.9 536.1Z" fill="#000000"/>
<path d="M1018.8 550.0L1033.7 550.0L1026.2 537.0Z" fill="#000000"/>
<path d="M1081.0 555.9L1095.9 555.9L1088.5 542.9Z" fill="#000000"/>
<path d="M1122.6 555.9L1137.5 555.9L1130.0 542.9Z" fill="#000000"/>
<path d="M1144.8 555.9L1159.7 555.9L1152.3 542.9Z" fill="#000000"/>
<path d="M1175.3 555.3L1190.2 555.3L1182.7 542.3Z" fill="#000000"/>
<path d="M1202.6 557.2L1217.5 557.2L1210.1 544.2Z" fill="#000000"/>
<path d="M1223.0 555.3L1237.8 555.3L1230.4 542.3Z" fill="#000000"/>
<path d="M1286.5 557.9L1301.4 557.9L1293.9 544.9Z" fill="#000000"/>
<path d="M908.6 454.1V492.2M904.1 454.1H913.1M904.1 492.2H913.1" stroke="#1a800c" stroke-width="2.2" stroke-opacity="0.6" fill="none"/>
<path d="M904.4 501.2V525.7M899.9 501.2H908.9M899.9 525.7H908.9" stroke="#1a800c" stroke-width="2.2" stroke-opacity="0.6" fill="none"/>
<path d="M911.4 502.6V527.1M906.9 502.6H915.9M906.9 527.1H915.9" stroke="#1a800c" stroke-width="2.2" stroke-opacity="0.6" fill="none"/>
<path d="M926.7 495.8V525.7M922.2 495.8H931.2M922.2 525.7H931.2" stroke="#1a800c" stroke-width="2.2" stroke-opacity="0.6" fill="none"/>
<path d="M928.1 500.5V531.4M923.6 500.5H932.6M923.6 531.4H932.6" stroke="#1a800c" stroke-width="2.2" stroke-opacity="0.6" fill="none"/>
<path d="M910.0 525.7V545.8M905.5 525.7H914.5M905.5 545.8H914.5" stroke="#1a800c" stroke-width="2.2" stroke-opacity="0.6" fill="none"/>
<path d="M925.3 524.9V538.6M920.8 524.9H929.8M920.8 538.6H929.8" stroke="#1a800c" stroke-width="2.2" stroke-opacity="0.6" fill="none"/>
<path d="M935.1 524.9V534.3M930.6 524.9H939.6M930.6 534.3H939.6" stroke="#1a800c" stroke-width="2.2" stroke-opacity="0.6" fill="none"/>
<rect x="900.5" y="465.1" width="16.1" height="16.1" fill="#1a800c"/>
<rect x="896.3" y="505.4" width="16.1" height="16.1" fill="#1a800c"/>
<rect x="903.3" y="506.8" width="16.1" height="16.1" fill="#1a800c"/>
<rect x="918.7" y="503.2" width="16.1" height="16.1" fill="#1a800c"/>
<rect x="920.1" y="508.2" width="16.1" height="16.1" fill="#1a800c"/>
<rect x="901.9" y="527.7" width="16.1" height="16.1" fill="#1a800c"/>
<rect x="917.3" y="523.3" width="16.1" height="16.1" fill="#1a800c"/>
<rect x="927.0" y="521.2" width="16.1" height="16.1" fill="#1a800c"/>
<rect x="948.7" y="536.7" width="16.1" height="16.1" fill="#1a800c"/>
<rect x="994.6" y="543.7" width="16.1" height="16.1" fill="#1a800c"/>
<rect x="1032.1" y="543.7" width="16.1" height="16.1" fill="#1a800c"/>
<rect x="1084.5" y="543.7" width="16.1" height="16.1" fill="#1a800c"/>
<rect x="1156.3" y="543.7" width="16.1" height="16.1" fill="#1a800c"/>
<rect x="1247.1" y="543.7" width="16.1" height="16.1" fill="#1a800c"/>
<path d="M890.7 433.9V482.5M886.2 433.9H895.2M886.2 482.5H895.2" stroke="#7f6000" stroke-width="2.2" stroke-opacity="0.6" fill="none"/>
<path d="M894.9 438.9V482.5M890.4 438.9H899.4M890.4 482.5H899.4" stroke="#7f6000" stroke-width="2.2" stroke-opacity="0.6" fill="none"/>
<path d="M890.4 448.7V493.6M885.9 448.7H894.9M885.9 493.6H894.9" stroke="#7f6000" stroke-width="2.2" stroke-opacity="0.6" fill="none"/>
<path d="M906.8 442.9V489.7M902.3 442.9H911.3M902.3 489.7H911.3" stroke="#7f6000" stroke-width="2.2" stroke-opacity="0.6" fill="none"/>
<path d="M916.2 427.4V476.7M911.7 427.4H920.7M911.7 476.7H920.7" stroke="#7f6000" stroke-width="2.2" stroke-opacity="0.6" fill="none"/>
<path d="M898.8 456.6V500.1M894.3 456.6H903.3M894.3 500.1H903.3" stroke="#7f6000" stroke-width="2.2" stroke-opacity="0.6" fill="none"/>
<path d="M903.0 469.5V500.1M898.5 469.5H907.5M898.5 500.1H907.5" stroke="#7f6000" stroke-width="2.2" stroke-opacity="0.6" fill="none"/>
<path d="M917.3 476.4V513.4M912.8 476.4H921.8M912.8 513.4H921.8" stroke="#7f6000" stroke-width="2.2" stroke-opacity="0.6" fill="none"/>
<path d="M907.9 489.7V520.6M903.4 489.7H912.4M903.4 520.6H912.4" stroke="#7f6000" stroke-width="2.2" stroke-opacity="0.6" fill="none"/>
<path d="M910.0 504.1V531.4M905.5 504.1H914.5M905.5 531.4H914.5" stroke="#7f6000" stroke-width="2.2" stroke-opacity="0.6" fill="none"/>
<path d="M918.3 511.3V537.2M913.8 511.3H922.8M913.8 537.2H922.8" stroke="#7f6000" stroke-width="2.2" stroke-opacity="0.6" fill="none"/>
<path d="M934.1 530.7V546.5M929.6 530.7H938.6M929.6 546.5H938.6" stroke="#7f6000" stroke-width="2.2" stroke-opacity="0.6" fill="none"/>
<path d="M963.8 508.4V536.5M959.3 508.4H968.3M959.3 536.5H968.3" stroke="#7f6000" stroke-width="2.2" stroke-opacity="0.6" fill="none"/>
<path d="M985.8 508.8V537.2M981.3 508.8H990.3M981.3 537.2H990.3" stroke="#7f6000" stroke-width="2.2" stroke-opacity="0.6" fill="none"/>
<path d="M1013.1 533.4V549.5M1008.6 533.4H1017.6M1008.6 549.5H1017.6" stroke="#7f6000" stroke-width="2.2" stroke-opacity="0.6" fill="none"/>
<path d="M1162.4 541.3V551.8M1157.9 541.3H1166.9M1157.9 551.8H1166.9" stroke="#7f6000" stroke-width="2.2" stroke-opacity="0.6" fill="none"/>
<path d="M1206.3 541.3V551.8M1201.8 541.3H1210.8M1201.8 551.8H1210.8" stroke="#7f6000" stroke-width="2.2" stroke-opacity="0.6" fill="none"/>
<path d="M1239.3 542.0V552.4M1234.8 542.0H1243.8M1234.8 552.4H1243.8" stroke="#7f6000" stroke-width="2.2" stroke-opacity="0.6" fill="none"/>
<path d="M879.3 458.7L890.7 447.7L902.2 458.7L890.7 469.8Z" fill="#7f6000"/>
<path d="M883.5 460.9L894.9 449.8L906.4 460.9L894.9 471.9Z" fill="#7f6000"/>
<path d="M878.9 471.3L890.4 460.3L901.9 471.3L890.4 482.4Z" fill="#7f6000"/>
<path d="M895.3 466.7L906.8 455.6L918.3 466.7L906.8 477.7Z" fill="#7f6000"/>
<path d="M904.8 452.6L916.2 441.6L927.7 452.6L916.2 463.7Z" fill="#7f6000"/>
<path d="M887.3 478.2L898.8 467.1L910.3 478.2L898.8 489.2Z" fill="#7f6000"/>
<path d="M891.5 485.4L903.0 474.3L914.4 485.4L903.0 496.4Z" fill="#7f6000"/>
<path d="M905.8 495.1L917.3 484.0L928.8 495.1L917.3 506.1Z" fill="#7f6000"/>
<path d="M896.4 504.8L907.9 493.7L919.3 504.8L907.9 515.8Z" fill="#7f6000"/>
<path d="M898.5 517.7L910.0 506.7L921.4 517.7L910.0 528.8Z" fill="#7f6000"/>
<path d="M906.9 524.2L918.3 513.2L929.8 524.2L918.3 535.3Z" fill="#7f6000"/>
<path d="M922.6 537.2L934.1 526.1L945.5 537.2L934.1 548.2Z" fill="#7f6000"/>
<path d="M952.3 522.8L963.8 511.7L975.2 522.8L963.8 533.8Z" fill="#7f6000"/>
<path d="M974.3 523.1L985.8 512.1L997.2 523.1L985.8 534.2Z" fill="#7f6000"/>
<path d="M1001.7 541.6L1013.1 530.5L1024.6 541.6L1013.1 552.6Z" fill="#7f6000"/>
<path d="M1024.9 551.4L1036.4 540.3L1047.9 551.4L1036.4 562.4Z" fill="#7f6000"/>
<path d="M1042.1 551.4L1053.5 540.3L1065.0 551.4L1053.5 562.4Z" fill="#7f6000"/>
<path d="M1050.7 551.4L1062.2 540.3L1073.7 551.4L1062.2 562.4Z" fill="#7f6000"/>
<path d="M1101.4 551.4L1112.9 540.3L1124.3 551.4L1112.9 562.4Z" fill="#7f6000"/>
<path d="M1123.0 551.4L1134.5 540.3L1145.9 551.4L1134.5 562.4Z" fill="#7f6000"/>
<path d="M1146.5 551.4L1158.0 540.3L1169.4 551.4L1158.0 562.4Z" fill="#7f6000"/>
<path d="M1150.9 546.5L1162.4 535.5L1173.9 546.5L1162.4 557.6Z" fill="#7f6000"/>
<path d="M1194.8 546.5L1206.3 535.5L1217.7 546.5L1206.3 557.6Z" fill="#7f6000"/>
<path d="M1227.8 547.2L1239.3 536.1L1250.8 547.2L1239.3 558.2Z" fill="#7f6000"/>
<path d="M1250.0 551.4L1261.5 540.3L1273.0 551.4L1261.5 562.4Z" fill="#7f6000"/>
<path d="M1260.2 551.4L1271.7 540.3L1283.2 551.4L1271.7 562.4Z" fill="#7f6000"/>
<path d="M1274.2 551.4L1285.7 540.3L1297.1 551.4L1285.7 562.4Z" fill="#7f6000"/>
<path d="M937.9 365.3V419.0M933.4 365.3H942.4M933.4 419.0H942.4" stroke="#80001a" stroke-width="2.2" stroke-opacity="0.6" fill="none"/>
<path d="M944.9 362.7V419.0M940.4 362.7H949.4M940.4 419.0H949.4" stroke="#80001a" stroke-width="2.2" stroke-opacity="0.6" fill="none"/>
<path d="M974.4 401.9V450.4M969.9 401.9H978.9M969.9 450.4H978.9" stroke="#80001a" stroke-width="2.2" stroke-opacity="0.6" fill="none"/>
<path d="M1016.7 476.9V511.2M1012.2 476.9H1021.2M1012.2 511.2H1021.2" stroke="#80001a" stroke-width="2.2" stroke-opacity="0.6" fill="none"/>
<path d="M1056.3 510.3V534.8M1051.8 510.3H1060.8M1051.8 534.8H1060.8" stroke="#80001a" stroke-width="2.2" stroke-opacity="0.6" fill="none"/>
<path d="M1076.7 528.2V546.1M1072.2 528.2H1081.2M1072.2 546.1H1081.2" stroke="#80001a" stroke-width="2.2" stroke-opacity="0.6" fill="none"/>
<path d="M1128.8 485.0V517.7M1124.3 485.0H1133.3M1124.3 517.7H1133.3" stroke="#80001a" stroke-width="2.2" stroke-opacity="0.6" fill="none"/>
<path d="M1128.8 499.4V529.5M1124.3 499.4H1133.3M1124.3 529.5H1133.3" stroke="#80001a" stroke-width="2.2" stroke-opacity="0.6" fill="none"/>
<path d="M1158.0 486.7V520.4M1153.5 486.7H1162.5M1153.5 520.4H1162.5" stroke="#80001a" stroke-width="2.2" stroke-opacity="0.6" fill="none"/>
<path d="M1164.7 509.0V534.8M1160.2 509.0H1169.2M1160.2 534.8H1169.2" stroke="#80001a" stroke-width="2.2" stroke-opacity="0.6" fill="none"/>
<path d="M1211.3 515.1V538.0M1206.8 515.1H1215.8M1206.8 538.0H1215.8" stroke="#80001a" stroke-width="2.2" stroke-opacity="0.6" fill="none"/>
<path d="M1226.6 523.0V542.6M1222.1 523.0H1231.1M1222.1 542.6H1231.1" stroke="#80001a" stroke-width="2.2" stroke-opacity="0.6" fill="none"/>
<path d="M1257.7 528.2V545.9M1253.2 528.2H1262.2M1253.2 545.9H1262.2" stroke="#80001a" stroke-width="2.2" stroke-opacity="0.6" fill="none"/>
<path d="M1288.8 539.3V549.8M1284.3 539.3H1293.3M1284.3 549.8H1293.3" stroke="#80001a" stroke-width="2.2" stroke-opacity="0.6" fill="none"/>
<circle cx="937.9" cy="391.5" r="8.7" fill="#80001a"/>
<circle cx="944.9" cy="390.2" r="8.7" fill="#80001a"/>
<circle cx="974.4" cy="426.1" r="8.7" fill="#80001a"/>
<circle cx="1016.7" cy="494.2" r="8.7" fill="#80001a"/>
<circle cx="1056.3" cy="522.1" r="8.7" fill="#80001a"/>
<circle cx="1076.7" cy="537.0" r="8.7" fill="#80001a"/>
<circle cx="1128.8" cy="501.4" r="8.7" fill="#80001a"/>
<circle cx="1128.8" cy="514.5" r="8.7" fill="#80001a"/>
<circle cx="1158.0" cy="503.7" r="8.7" fill="#80001a"/>
<circle cx="1164.7" cy="522.3" r="8.7" fill="#80001a"/>
<circle cx="1211.3" cy="526.5" r="8.7" fill="#80001a"/>
<circle cx="1226.6" cy="532.8" r="8.7" fill="#80001a"/>
<circle cx="1257.7" cy="537.0" r="8.7" fill="#80001a"/>
<circle cx="1288.8" cy="544.6" r="8.7" fill="#80001a"/>
<path d="M925.8 318.8V381.1M921.3 318.8H930.3M921.3 381.1H930.3" stroke="#5500ff" stroke-width="2.2" stroke-opacity="0.6" fill="none"/>
<path d="M928.4 356.5V416.3M923.9 356.5H932.9M923.9 416.3H932.9" stroke="#5500ff" stroke-width="2.2" stroke-opacity="0.6" fill="none"/>
<path d="M949.7 332.8V394.9M945.2 332.8H954.2M945.2 394.9H954.2" stroke="#5500ff" stroke-width="2.2" stroke-opacity="0.6" fill="none"/>
<path d="M983.7 324.7V389.7M979.2 324.7H988.2M979.2 389.7H988.2" stroke="#5500ff" stroke-width="2.2" stroke-opacity="0.6" fill="none"/>
<path d="M1020.8 338.8V403.6M1016.3 338.8H1025.3M1016.3 403.6H1025.3" stroke="#5500ff" stroke-width="2.2" stroke-opacity="0.6" fill="none"/>
<path d="M1038.5 434.9V482.7M1034.0 434.9H1043.0M1034.0 482.7H1043.0" stroke="#5500ff" stroke-width="2.2" stroke-opacity="0.6" fill="none"/>
<path d="M1051.6 476.9V512.5M1047.1 476.9H1056.1M1047.1 512.5H1056.1" stroke="#5500ff" stroke-width="2.2" stroke-opacity="0.6" fill="none"/>
<path d="M1072.3 481.8V515.4M1067.8 481.8H1076.8M1067.8 515.4H1076.8" stroke="#5500ff" stroke-width="2.2" stroke-opacity="0.6" fill="none"/>
<path d="M1105.6 449.0V490.0M1101.1 449.0H1110.1M1101.1 490.0H1110.1" stroke="#5500ff" stroke-width="2.2" stroke-opacity="0.6" fill="none"/>
<path d="M1138.7 460.6V497.7M1134.2 460.6H1143.2M1134.2 497.7H1143.2" stroke="#5500ff" stroke-width="2.2" stroke-opacity="0.6" fill="none"/>
<path d="M1175.4 472.6V506.0M1170.9 472.6H1179.9M1170.9 506.0H1179.9" stroke="#5500ff" stroke-width="2.2" stroke-opacity="0.6" fill="none"/>
<path d="M1189.4 493.3V521.3M1184.9 493.3H1193.9M1184.9 521.3H1193.9" stroke="#5500ff" stroke-width="2.2" stroke-opacity="0.6" fill="none"/>
<path d="M1224.0 509.0V533.4M1219.5 509.0H1228.5M1219.5 533.4H1228.5" stroke="#5500ff" stroke-width="2.2" stroke-opacity="0.6" fill="none"/>
<path d="M1247.5 526.0V544.3M1243.0 526.0H1252.0M1243.0 544.3H1252.0" stroke="#5500ff" stroke-width="2.2" stroke-opacity="0.6" fill="none"/>
<path d="M1293.3 539.3V551.1M1288.8 539.3H1297.8M1288.8 551.1H1297.8" stroke="#5500ff" stroke-width="2.2" stroke-opacity="0.6" fill="none"/>
<path d="M915.2 342.1L936.5 342.1L925.8 360.8Z" fill="#5500ff"/>
<path d="M917.8 378.3L939.0 378.3L928.4 397.0Z" fill="#5500ff"/>
<path d="M939.1 356.5L960.4 356.5L949.7 375.2Z" fill="#5500ff"/>
<path d="M973.0 349.5L994.3 349.5L983.7 368.2Z" fill="#5500ff"/>
<path d="M1010.1 363.3L1031.4 363.3L1020.8 382.0Z" fill="#5500ff"/>
<path d="M1027.9 451.7L1049.2 451.7L1038.5 470.4Z" fill="#5500ff"/>
<path d="M1041.0 488.3L1062.3 488.3L1051.6 507.0Z" fill="#5500ff"/>
<path d="M1061.7 491.3L1083.0 491.3L1072.3 510.0Z" fill="#5500ff"/>
<path d="M1095.0 462.1L1116.3 462.1L1105.6 480.8Z" fill="#5500ff"/>
<path d="M1128.0 471.9L1149.3 471.9L1138.7 490.6Z" fill="#5500ff"/>
<path d="M1164.8 482.4L1186.0 482.4L1175.4 501.1Z" fill="#5500ff"/>
<path d="M1178.7 499.4L1200.0 499.4L1189.4 518.1Z" fill="#5500ff"/>
<path d="M1213.4 513.8L1234.7 513.8L1224.0 532.5Z" fill="#5500ff"/>
<path d="M1236.9 528.2L1258.2 528.2L1247.5 546.9Z" fill="#5500ff"/>
<path d="M1282.7 537.4L1303.9 537.4L1293.3 556.1Z" fill="#5500ff"/>
<path d="M938.2 186.6V260.8M933.7 186.6H942.7M933.7 260.8H942.7" stroke="#0033ff" stroke-width="2.2" stroke-opacity="0.6" fill="none"/>
<path d="M944.0 241.6V309.0M939.5 241.6H948.5M939.5 309.0H948.5" stroke="#0033ff" stroke-width="2.2" stroke-opacity="0.6" fill="none"/>
<path d="M942.7 275.9V343.4M938.2 275.9H947.2M938.2 343.4H947.2" stroke="#0033ff" stroke-width="2.2" stroke-opacity="0.6" fill="none"/>
<path d="M943.0 301.8V361.3M938.5 301.8H947.5M938.5 361.3H947.5" stroke="#0033ff" stroke-width="2.2" stroke-opacity="0.6" fill="none"/>
<path d="M988.7 336.4V393.8M984.2 336.4H993.2M984.2 393.8H993.2" stroke="#0033ff" stroke-width="2.2" stroke-opacity="0.6" fill="none"/>
<path d="M1032.6 423.1V467.6M1028.1 423.1H1037.1M1028.1 467.6H1037.1" stroke="#0033ff" stroke-width="2.2" stroke-opacity="0.6" fill="none"/>
<path d="M1090.4 449.0V487.6M1085.9 449.0H1094.9M1085.9 487.6H1094.9" stroke="#0033ff" stroke-width="2.2" stroke-opacity="0.6" fill="none"/>
<path d="M1122.7 483.5V515.1M1118.2 483.5H1127.2M1118.2 515.1H1127.2" stroke="#0033ff" stroke-width="2.2" stroke-opacity="0.6" fill="none"/>
<path d="M1181.5 502.7V528.2M1177.0 502.7H1186.0M1177.0 528.2H1186.0" stroke="#0033ff" stroke-width="2.2" stroke-opacity="0.6" fill="none"/>
<path d="M1243.7 521.3V543.3M1239.2 521.3H1248.2M1239.2 543.3H1248.2" stroke="#0033ff" stroke-width="2.2" stroke-opacity="0.6" fill="none"/>
<path d="M1285.7 518.1V539.3M1281.2 518.1H1290.2M1281.2 539.3H1290.2" stroke="#0033ff" stroke-width="2.2" stroke-opacity="0.6" fill="none"/>
<path d="M946.0 212.9L946.0 234.1L927.3 223.5Z" fill="#0033ff"/>
<path d="M951.9 265.0L951.9 286.2L933.2 275.6Z" fill="#0033ff"/>
<path d="M950.6 299.0L950.6 320.2L931.9 309.6Z" fill="#0033ff"/>
<path d="M950.9 321.0L950.9 342.2L932.2 331.6Z" fill="#0033ff"/>
<path d="M996.6 353.7L996.6 374.9L977.9 364.3Z" fill="#0033ff"/>
<path d="M1040.4 435.2L1040.4 456.4L1021.7 445.8Z" fill="#0033ff"/>
<path d="M1098.2 457.8L1098.2 479.0L1079.5 468.4Z" fill="#0033ff"/>
<path d="M1130.5 489.2L1130.5 510.4L1111.8 499.8Z" fill="#0033ff"/>
<path d="M1189.3 504.9L1189.3 526.1L1170.6 515.5Z" fill="#0033ff"/>
<path d="M1251.6 521.3L1251.6 542.5L1232.9 531.9Z" fill="#0033ff"/>
<path d="M1293.5 518.2L1293.5 539.5L1274.8 528.9Z" fill="#0033ff"/>
<path d="M886.0 120.6V560.5H1305.5" fill="none" stroke="#555" stroke-width="2.6"/>
<path d="M886.0 560.5v8M945.4 560.5v5M1004.8 560.5v8M1064.2 560.5v5M1123.6 560.5v8M1183.0 560.5v5M1242.4 560.5v8M1301.8 560.5v5M886.0 551.0h-7M886.0 524.1h-4M886.0 497.2h-7M886.0 470.3h-4M886.0 443.4h-7M886.0 416.5h-4M886.0 389.6h-7M886.0 362.7h-4M886.0 335.8h-7M886.0 308.9h-4M886.0 282.0h-7M886.0 255.1h-4M886.0 228.2h-7M886.0 201.3h-4M886.0 174.4h-7M886.0 147.5h-4M886.0 120.6h-7" stroke="#555" stroke-width="2" fill="none"/>
<text x="872.0" y="560.5" font-size="29.5" text-anchor="end" fill="#1a1a1a" textLength="55.0" lengthAdjust="spacingAndGlyphs" stroke="#1a1a1a" stroke-width="0.5">0.00</text>
<text x="872.0" y="506.7" font-size="29.5" text-anchor="end" fill="#1a1a1a" textLength="55.0" lengthAdjust="spacingAndGlyphs" stroke="#1a1a1a" stroke-width="0.5">0.05</text>
<text x="872.0" y="452.9" font-size="29.5" text-anchor="end" fill="#1a1a1a" textLength="55.0" lengthAdjust="spacingAndGlyphs" stroke="#1a1a1a" stroke-width="0.5">0.10</text>
<text x="872.0" y="399.1" font-size="29.5" text-anchor="end" fill="#1a1a1a" textLength="55.0" lengthAdjust="spacingAndGlyphs" stroke="#1a1a1a" stroke-width="0.5">0.15</text>
<text x="872.0" y="345.3" font-size="29.5" text-anchor="end" fill="#1a1a1a" textLength="55.0" lengthAdjust="spacingAndGlyphs" stroke="#1a1a1a" stroke-width="0.5">0.20</text>
<text x="872.0" y="291.5" font-size="29.5" text-anchor="end" fill="#1a1a1a" textLength="55.0" lengthAdjust="spacingAndGlyphs" stroke="#1a1a1a" stroke-width="0.5">0.25</text>
<text x="872.0" y="237.7" font-size="29.5" text-anchor="end" fill="#1a1a1a" textLength="55.0" lengthAdjust="spacingAndGlyphs" stroke="#1a1a1a" stroke-width="0.5">0.30</text>
<text x="872.0" y="183.9" font-size="29.5" text-anchor="end" fill="#1a1a1a" textLength="55.0" lengthAdjust="spacingAndGlyphs" stroke="#1a1a1a" stroke-width="0.5">0.35</text>
<text x="872.0" y="130.1" font-size="29.5" text-anchor="end" fill="#1a1a1a" textLength="55.0" lengthAdjust="spacingAndGlyphs" stroke="#1a1a1a" stroke-width="0.5">0.40</text>
<text x="886.0" y="598.0" font-size="30" text-anchor="middle" fill="#1a1a1a" textLength="16.6" lengthAdjust="spacingAndGlyphs" stroke="#1a1a1a" stroke-width="0.5">0</text>
<text x="1004.8" y="598.0" font-size="30" text-anchor="middle" fill="#1a1a1a" textLength="33.2" lengthAdjust="spacingAndGlyphs" stroke="#1a1a1a" stroke-width="0.5">20</text>
<text x="1123.6" y="598.0" font-size="30" text-anchor="middle" fill="#1a1a1a" textLength="33.2" lengthAdjust="spacingAndGlyphs" stroke="#1a1a1a" stroke-width="0.5">40</text>
<text x="1242.4" y="598.0" font-size="30" text-anchor="middle" fill="#1a1a1a" textLength="33.2" lengthAdjust="spacingAndGlyphs" stroke="#1a1a1a" stroke-width="0.5">60</text>
<text x="998.4" y="229" font-size="54" font-style="italic">c</text>
<text x="1027.8" y="242" font-size="36">Fe</text>
<text x="1089.4" y="229" font-size="54">=</text>
<text x="1141.4" y="229" font-size="54">30</text>
<text x="1221.9" y="229" font-size="54">at%</text>
<path d="M1063.4 288V410" stroke="#000" stroke-width="2.4" fill="none"/>
<path d="M1063.4 430L1053.9 383L1063.4 397L1072.9 383Z" fill="#000"/></g>
<g id="chart-b"><clipPath id="clipb"><rect x="205.6" y="1367.0" width="1130.9" height="916.3"/></clipPath><g clip-path="url(#clipb)">
<path d="M236.3 2209.8V2255.8M226.8 2209.8H245.8M226.8 2255.8H245.8" stroke="#000000" stroke-width="3.6" stroke-opacity="0.42" fill="none"/>
<path d="M238.7 2221.9V2258.2M229.2 2221.9H248.2M229.2 2258.2H248.2" stroke="#000000" stroke-width="3.6" stroke-opacity="0.42" fill="none"/>
<path d="M247.2 2236.4V2263.1M237.7 2236.4H256.7M237.7 2263.1H256.7" stroke="#000000" stroke-width="3.6" stroke-opacity="0.42" fill="none"/>
<path d="M271.4 2241.3V2260.7M261.9 2241.3H280.9M261.9 2260.7H280.9" stroke="#000000" stroke-width="3.6" stroke-opacity="0.42" fill="none"/>
<path d="M281.1 2241.3V2260.7M271.6 2241.3H290.6M271.6 2260.7H290.6" stroke="#000000" stroke-width="3.6" stroke-opacity="0.42" fill="none"/>
<path d="M224.3 2241.6L248.3 2241.6L236.3 2220.6Z" fill="#000000"/>
<path d="M226.7 2250.1L250.7 2250.1L238.7 2229.1Z" fill="#000000"/>
<path d="M235.2 2258.6L259.2 2258.6L247.2 2237.6Z" fill="#000000"/>
<path d="M259.4 2259.8L283.4 2259.8L271.4 2238.8Z" fill="#000000"/>
<path d="M269.1 2259.8L293.1 2259.8L281.1 2238.8Z" fill="#000000"/>
<path d="M303.7 2269.5L327.7 2269.5L315.7 2248.5Z" fill="#000000"/>
<path d="M346.6 2269.5L370.6 2269.5L358.6 2248.5Z" fill="#000000"/>
<path d="M392.6 2269.5L416.6 2269.5L404.6 2248.5Z" fill="#000000"/>
<path d="M427.7 2269.0L451.7 2269.0L439.7 2248.0Z" fill="#000000"/>
<path d="M489.5 2269.5L513.5 2269.5L501.5 2248.5Z" fill="#000000"/>
<path d="M525.3 2269.0L549.3 2269.0L537.3 2248.0Z" fill="#000000"/>
<path d="M614.2 2269.6L638.2 2269.6L626.2 2248.6Z" fill="#000000"/>
<path d="M655.1 2269.6L679.1 2269.6L667.1 2248.6Z" fill="#000000"/>
<path d="M732.6 2269.6L756.6 2269.6L744.6 2248.6Z" fill="#000000"/>
<path d="M781.0 2269.6L805.0 2269.6L793.0 2248.6Z" fill="#000000"/>
<path d="M873.7 2269.6L897.7 2269.6L885.7 2248.6Z" fill="#000000"/>
<path d="M931.8 2269.6L955.8 2269.6L943.8 2248.6Z" fill="#000000"/>
<path d="M1017.1 2269.5L1041.1 2269.5L1029.1 2248.5Z" fill="#000000"/>
<path d="M1061.4 2269.5L1085.4 2269.5L1073.4 2248.5Z" fill="#000000"/>
<path d="M1113.9 2269.5L1137.9 2269.5L1125.9 2248.5Z" fill="#000000"/>
<path d="M1173.2 2269.5L1197.2 2269.5L1185.2 2248.5Z" fill="#000000"/>
<path d="M1191.4 2269.5L1215.4 2269.5L1203.4 2248.5Z" fill="#000000"/>
<path d="M1264.0 2269.5L1288.0 2269.5L1276.0 2248.5Z" fill="#000000"/>
<path d="M1290.7 2269.5L1314.7 2269.5L1302.7 2248.5Z" fill="#000000"/>
<path d="M264.2 2039.7V2120.8M254.7 2039.7H273.7M254.7 2120.8H273.7" stroke="#1a800c" stroke-width="3.6" stroke-opacity="0.42" fill="none"/>
<path d="M286.0 2025.2V2106.3M276.5 2025.2H295.5M276.5 2106.3H295.5" stroke="#1a800c" stroke-width="3.6" stroke-opacity="0.42" fill="none"/>
<path d="M299.8 2091.8V2162.0M290.3 2091.8H309.3M290.3 2162.0H309.3" stroke="#1a800c" stroke-width="3.6" stroke-opacity="0.42" fill="none"/>
<path d="M269.0 2109.9V2180.1M259.5 2109.9H278.5M259.5 2180.1H278.5" stroke="#1a800c" stroke-width="3.6" stroke-opacity="0.42" fill="none"/>
<path d="M307.7 2192.9V2237.7M298.2 2192.9H317.2M298.2 2237.7H317.2" stroke="#1a800c" stroke-width="3.6" stroke-opacity="0.42" fill="none"/>
<path d="M315.7 2182.0V2229.2M306.2 2182.0H325.2M306.2 2229.2H325.2" stroke="#1a800c" stroke-width="3.6" stroke-opacity="0.42" fill="none"/>
<path d="M344.8 2186.3V2229.2M335.3 2186.3H354.3M335.3 2229.2H354.3" stroke="#1a800c" stroke-width="3.6" stroke-opacity="0.42" fill="none"/>
<path d="M365.9 2192.4V2236.0M356.4 2192.4H375.4M356.4 2236.0H375.4" stroke="#1a800c" stroke-width="3.6" stroke-opacity="0.42" fill="none"/>
<path d="M445.0 2197.7V2242.5M435.5 2197.7H454.5M435.5 2242.5H454.5" stroke="#1a800c" stroke-width="3.6" stroke-opacity="0.42" fill="none"/>
<path d="M485.2 2201.3V2244.9M475.7 2201.3H494.7M475.7 2244.9H494.7" stroke="#1a800c" stroke-width="3.6" stroke-opacity="0.42" fill="none"/>
<path d="M533.7 2203.8V2244.9M524.2 2203.8H543.2M524.2 2244.9H543.2" stroke="#1a800c" stroke-width="3.6" stroke-opacity="0.42" fill="none"/>
<path d="M594.7 2217.1V2252.2M585.2 2217.1H604.2M585.2 2252.2H604.2" stroke="#1a800c" stroke-width="3.6" stroke-opacity="0.42" fill="none"/>
<path d="M1173.1 2226.0V2255.1M1163.6 2226.0H1182.6M1163.6 2255.1H1182.6" stroke="#1a800c" stroke-width="3.6" stroke-opacity="0.42" fill="none"/>
<path d="M1306.3 2223.6V2247.8M1296.8 2223.6H1315.8M1296.8 2247.8H1315.8" stroke="#1a800c" stroke-width="3.6" stroke-opacity="0.42" fill="none"/>
<rect x="254.7" y="2071.4" width="19.0" height="19.0" fill="#1a800c"/>
<rect x="276.5" y="2055.6" width="19.0" height="19.0" fill="#1a800c"/>
<rect x="290.3" y="2117.4" width="19.0" height="19.0" fill="#1a800c"/>
<rect x="259.5" y="2135.5" width="19.0" height="19.0" fill="#1a800c"/>
<rect x="298.2" y="2206.4" width="19.0" height="19.0" fill="#1a800c"/>
<rect x="306.2" y="2195.5" width="19.0" height="19.0" fill="#1a800c"/>
<rect x="335.3" y="2197.9" width="19.0" height="19.0" fill="#1a800c"/>
<rect x="356.4" y="2204.7" width="19.0" height="19.0" fill="#1a800c"/>
<rect x="435.5" y="2210.0" width="19.0" height="19.0" fill="#1a800c"/>
<rect x="475.7" y="2212.9" width="19.0" height="19.0" fill="#1a800c"/>
<rect x="524.2" y="2214.8" width="19.0" height="19.0" fill="#1a800c"/>
<rect x="585.2" y="2225.7" width="19.0" height="19.0" fill="#1a800c"/>
<rect x="688.6" y="2242.8" width="19.0" height="19.0" fill="#1a800c"/>
<rect x="784.2" y="2251.3" width="19.0" height="19.0" fill="#1a800c"/>
<rect x="885.4" y="2242.8" width="19.0" height="19.0" fill="#1a800c"/>
<rect x="1032.9" y="2242.7" width="19.0" height="19.0" fill="#1a800c"/>
<rect x="1163.6" y="2231.1" width="19.0" height="19.0" fill="#1a800c"/>
<rect x="1209.6" y="2244.4" width="19.0" height="19.0" fill="#1a800c"/>
<rect x="1224.2" y="2243.2" width="19.0" height="19.0" fill="#1a800c"/>
<rect x="1239.9" y="2254.1" width="19.0" height="19.0" fill="#1a800c"/>
<rect x="1296.8" y="2226.2" width="19.0" height="19.0" fill="#1a800c"/>
<rect x="1276.2" y="2252.8" width="19.0" height="19.0" fill="#1a800c"/>
<path d="M245.5 1857.6V1991.3M236.0 1857.6H255.0M236.0 1991.3H255.0" stroke="#7f6000" stroke-width="3.6" stroke-opacity="0.42" fill="none"/>
<path d="M235.1 1916.2V2025.2M225.6 1916.2H244.6M225.6 2025.2H244.6" stroke="#7f6000" stroke-width="3.6" stroke-opacity="0.42" fill="none"/>
<path d="M226.2 1932.0V2042.1M216.7 1932.0H235.7M216.7 2042.1H235.7" stroke="#7f6000" stroke-width="3.6" stroke-opacity="0.42" fill="none"/>
<path d="M226.6 1946.5V2044.6M217.1 1946.5H236.1M217.1 2044.6H236.1" stroke="#7f6000" stroke-width="3.6" stroke-opacity="0.42" fill="none"/>
<path d="M229.8 1993.7V2093.0M220.3 1993.7H239.3M220.3 2093.0H239.3" stroke="#7f6000" stroke-width="3.6" stroke-opacity="0.42" fill="none"/>
<path d="M274.6 1939.2V2060.3M265.1 1939.2H284.1M265.1 2060.3H284.1" stroke="#7f6000" stroke-width="3.6" stroke-opacity="0.42" fill="none"/>
<path d="M262.5 1968.3V2073.6M253.0 1968.3H272.0M253.0 2073.6H272.0" stroke="#7f6000" stroke-width="3.6" stroke-opacity="0.42" fill="none"/>
<path d="M302.9 1959.8V2073.6M293.4 1959.8H312.4M293.4 2073.6H312.4" stroke="#7f6000" stroke-width="3.6" stroke-opacity="0.42" fill="none"/>
<path d="M303.6 1969.5V2099.0M294.1 1969.5H313.1M294.1 2099.0H313.1" stroke="#7f6000" stroke-width="3.6" stroke-opacity="0.42" fill="none"/>
<path d="M283.5 2021.5V2117.2M274.0 2021.5H293.0M274.0 2117.2H293.0" stroke="#7f6000" stroke-width="3.6" stroke-opacity="0.42" fill="none"/>
<path d="M301.7 2021.5V2114.8M292.2 2021.5H311.2M292.2 2114.8H311.2" stroke="#7f6000" stroke-width="3.6" stroke-opacity="0.42" fill="none"/>
<path d="M250.4 2060.3V2143.3M240.9 2060.3H259.9M240.9 2143.3H259.9" stroke="#7f6000" stroke-width="3.6" stroke-opacity="0.42" fill="none"/>
<path d="M326.4 2032.4V2139.0M316.9 2032.4H335.9M316.9 2139.0H335.9" stroke="#7f6000" stroke-width="3.6" stroke-opacity="0.42" fill="none"/>
<path d="M514.3 2089.3V2177.7M504.8 2089.3H523.8M504.8 2177.7H523.8" stroke="#7f6000" stroke-width="3.6" stroke-opacity="0.42" fill="none"/>
<path d="M711.9 2174.8V2228.1M702.4 2174.8H721.4M702.4 2228.1H721.4" stroke="#7f6000" stroke-width="3.6" stroke-opacity="0.42" fill="none"/>
<path d="M944.6 2214.0V2249.9M935.1 2214.0H954.1M935.1 2249.9H954.1" stroke="#7f6000" stroke-width="3.6" stroke-opacity="0.42" fill="none"/>
<path d="M1087.2 2197.0V2240.6M1077.7 2197.0H1096.7M1077.7 2240.6H1096.7" stroke="#7f6000" stroke-width="3.6" stroke-opacity="0.42" fill="none"/>
<path d="M1202.9 2183.7V2233.3M1193.4 2183.7H1212.4M1193.4 2233.3H1212.4" stroke="#7f6000" stroke-width="3.6" stroke-opacity="0.42" fill="none"/>
<path d="M1260.3 2211.5V2247.8M1250.8 2211.5H1269.8M1250.8 2247.8H1269.8" stroke="#7f6000" stroke-width="3.6" stroke-opacity="0.42" fill="none"/>
<path d="M232.0 1923.5L245.5 1910.5L259.0 1923.5L245.5 1936.5Z" fill="#7f6000"/>
<path d="M221.6 1969.5L235.1 1956.5L248.6 1969.5L235.1 1982.5Z" fill="#7f6000"/>
<path d="M212.7 1986.4L226.2 1973.4L239.7 1986.4L226.2 1999.4Z" fill="#7f6000"/>
<path d="M213.1 1994.9L226.6 1981.9L240.1 1994.9L226.6 2007.9Z" fill="#7f6000"/>
<path d="M216.3 2043.3L229.8 2030.3L243.3 2043.3L229.8 2056.3Z" fill="#7f6000"/>
<path d="M261.1 1999.8L274.6 1986.8L288.1 1999.8L274.6 2012.8Z" fill="#7f6000"/>
<path d="M249.0 2021.5L262.5 2008.5L276.0 2021.5L262.5 2034.5Z" fill="#7f6000"/>
<path d="M289.4 2017.9L302.9 2004.9L316.4 2017.9L302.9 2030.9Z" fill="#7f6000"/>
<path d="M290.1 2033.7L303.6 2020.7L317.1 2033.7L303.6 2046.7Z" fill="#7f6000"/>
<path d="M270.0 2067.6L283.5 2054.6L297.0 2067.6L283.5 2080.6Z" fill="#7f6000"/>
<path d="M288.2 2067.6L301.7 2054.6L315.2 2067.6L301.7 2080.6Z" fill="#7f6000"/>
<path d="M236.9 2101.5L250.4 2088.5L263.9 2101.5L250.4 2114.5Z" fill="#7f6000"/>
<path d="M312.9 2085.2L326.4 2072.2L339.9 2085.2L326.4 2098.2Z" fill="#7f6000"/>
<path d="M500.8 2134.1L514.3 2121.1L527.8 2134.1L514.3 2147.1Z" fill="#7f6000"/>
<path d="M698.4 2201.0L711.9 2188.0L725.4 2201.0L711.9 2214.0Z" fill="#7f6000"/>
<path d="M931.1 2231.0L944.6 2218.0L958.1 2231.0L944.6 2244.0Z" fill="#7f6000"/>
<path d="M1073.7 2218.8L1087.2 2205.8L1100.7 2218.8L1087.2 2231.8Z" fill="#7f6000"/>
<path d="M1189.4 2207.9L1202.9 2194.9L1216.4 2207.9L1202.9 2220.9Z" fill="#7f6000"/>
<path d="M1246.8 2228.5L1260.3 2215.5L1273.8 2228.5L1260.3 2241.5Z" fill="#7f6000"/>
<path d="M1298.8 2247.8L1312.3 2234.8L1325.8 2247.8L1312.3 2260.8Z" fill="#7f6000"/>
<path d="M1313.4 2259.9L1326.9 2246.9L1340.4 2259.9L1326.9 2272.9Z" fill="#7f6000"/>
<path d="M369.0 1882.3V1990.8M359.5 1882.3H378.5M359.5 1990.8H378.5" stroke="#80001a" stroke-width="3.6" stroke-opacity="0.42" fill="none"/>
<path d="M430.0 1882.3V1992.5M420.5 1882.3H439.5M420.5 1992.5H439.5" stroke="#80001a" stroke-width="3.6" stroke-opacity="0.42" fill="none"/>
<path d="M462.7 1877.5V1988.9M453.2 1877.5H472.2M453.2 1988.9H472.2" stroke="#80001a" stroke-width="3.6" stroke-opacity="0.42" fill="none"/>
<path d="M327.6 1959.8V2057.9M318.1 1959.8H337.1M318.1 2057.9H337.1" stroke="#80001a" stroke-width="3.6" stroke-opacity="0.42" fill="none"/>
<path d="M506.3 1991.3V2080.9M496.8 1991.3H515.8M496.8 2080.9H515.8" stroke="#80001a" stroke-width="3.6" stroke-opacity="0.42" fill="none"/>
<path d="M551.1 2038.5V2121.5M541.6 2038.5H560.6M541.6 2121.5H560.6" stroke="#80001a" stroke-width="3.6" stroke-opacity="0.42" fill="none"/>
<path d="M701.7 2067.6V2140.4M692.2 2067.6H711.2M692.2 2140.4H711.2" stroke="#80001a" stroke-width="3.6" stroke-opacity="0.42" fill="none"/>
<path d="M797.8 2104.6V2174.8M788.3 2104.6H807.3M788.3 2174.8H807.3" stroke="#80001a" stroke-width="3.6" stroke-opacity="0.42" fill="none"/>
<path d="M914.0 2099.8V2171.2M904.5 2099.8H923.5M904.5 2171.2H923.5" stroke="#80001a" stroke-width="3.6" stroke-opacity="0.42" fill="none"/>
<path d="M1011.4 2149.0V2209.8M1001.9 2149.0H1020.9M1001.9 2209.8H1020.9" stroke="#80001a" stroke-width="3.6" stroke-opacity="0.42" fill="none"/>
<path d="M1125.9 2181.2V2230.9M1116.4 2181.2H1135.4M1116.4 2230.9H1135.4" stroke="#80001a" stroke-width="3.6" stroke-opacity="0.42" fill="none"/>
<path d="M1173.1 2198.2V2240.6M1163.6 2198.2H1182.6M1163.6 2240.6H1182.6" stroke="#80001a" stroke-width="3.6" stroke-opacity="0.42" fill="none"/>
<path d="M1194.9 2213.9V2251.5M1185.4 2213.9H1204.4M1185.4 2251.5H1204.4" stroke="#80001a" stroke-width="3.6" stroke-opacity="0.42" fill="none"/>
<path d="M1247.0 2221.2V2257.5M1237.5 2221.2H1256.5M1237.5 2257.5H1256.5" stroke="#80001a" stroke-width="3.6" stroke-opacity="0.42" fill="none"/>
<path d="M1268.8 2192.1V2230.9M1259.3 2192.1H1278.3M1259.3 2230.9H1278.3" stroke="#80001a" stroke-width="3.6" stroke-opacity="0.42" fill="none"/>
<path d="M1280.9 2226.0V2259.9M1271.4 2226.0H1290.4M1271.4 2259.9H1290.4" stroke="#80001a" stroke-width="3.6" stroke-opacity="0.42" fill="none"/>
<path d="M1271.5 2187.1V2231.7M1262.0 2187.1H1281.0M1262.0 2231.7H1281.0" stroke="#80001a" stroke-width="3.6" stroke-opacity="0.42" fill="none"/>
<path d="M1249.2 2224.3V2254.1M1239.7 2224.3H1258.7M1239.7 2254.1H1258.7" stroke="#80001a" stroke-width="3.6" stroke-opacity="0.42" fill="none"/>
<circle cx="369.0" cy="1936.3" r="10.2" fill="#80001a"/>
<circle cx="430.0" cy="1936.3" r="10.2" fill="#80001a"/>
<circle cx="462.7" cy="1933.2" r="10.2" fill="#80001a"/>
<circle cx="327.6" cy="2009.4" r="10.2" fill="#80001a"/>
<circle cx="506.3" cy="2035.4" r="10.2" fill="#80001a"/>
<circle cx="551.1" cy="2078.9" r="10.2" fill="#80001a"/>
<circle cx="701.7" cy="2103.4" r="10.2" fill="#80001a"/>
<circle cx="797.8" cy="2139.2" r="10.2" fill="#80001a"/>
<circle cx="914.0" cy="2134.9" r="10.2" fill="#80001a"/>
<circle cx="1011.4" cy="2178.8" r="10.2" fill="#80001a"/>
<circle cx="1125.9" cy="2206.7" r="10.2" fill="#80001a"/>
<circle cx="1173.1" cy="2220.0" r="10.2" fill="#80001a"/>
<circle cx="1194.9" cy="2232.1" r="10.2" fill="#80001a"/>
<circle cx="1247.0" cy="2239.3" r="10.2" fill="#80001a"/>
<circle cx="1268.8" cy="2211.5" r="10.2" fill="#80001a"/>
<circle cx="1280.9" cy="2243.0" r="10.2" fill="#80001a"/>
<circle cx="1271.5" cy="2209.4" r="10.2" fill="#80001a"/>
<circle cx="1249.2" cy="2239.2" r="10.2" fill="#80001a"/>
<path d="M384.0 1713.9V1832.1M374.5 1713.9H393.5M374.5 1832.1H393.5" stroke="#5500ff" stroke-width="3.6" stroke-opacity="0.42" fill="none"/>
<path d="M421.5 1739.3V1851.0M412.0 1739.3H431.0M412.0 1851.0H431.0" stroke="#5500ff" stroke-width="3.6" stroke-opacity="0.42" fill="none"/>
<path d="M453.0 1754.6V1860.7M443.5 1754.6H462.5M443.5 1860.7H462.5" stroke="#5500ff" stroke-width="3.6" stroke-opacity="0.42" fill="none"/>
<path d="M313.8 1781.7V1899.9M304.3 1781.7H323.3M304.3 1899.9H323.3" stroke="#5500ff" stroke-width="3.6" stroke-opacity="0.42" fill="none"/>
<path d="M274.6 1825.4V1942.9M265.1 1825.4H284.1M265.1 1942.9H284.1" stroke="#5500ff" stroke-width="3.6" stroke-opacity="0.42" fill="none"/>
<path d="M343.3 1825.4V1942.9M333.8 1825.4H352.8M333.8 1942.9H352.8" stroke="#5500ff" stroke-width="3.6" stroke-opacity="0.42" fill="none"/>
<path d="M520.8 1878.7V1979.2M511.3 1878.7H530.3M511.3 1979.2H530.3" stroke="#5500ff" stroke-width="3.6" stroke-opacity="0.42" fill="none"/>
<path d="M559.1 1867.8V1970.7M549.6 1867.8H568.6M549.6 1970.7H568.6" stroke="#5500ff" stroke-width="3.6" stroke-opacity="0.42" fill="none"/>
<path d="M753.8 1907.3V1982.3M744.3 1907.3H763.3M744.3 1982.3H763.3" stroke="#5500ff" stroke-width="3.6" stroke-opacity="0.42" fill="none"/>
<path d="M758.6 1913.3V2007.7M749.1 1913.3H768.1M749.1 2007.7H768.1" stroke="#5500ff" stroke-width="3.6" stroke-opacity="0.42" fill="none"/>
<path d="M847.0 1942.4V2041.6M837.5 1942.4H856.5M837.5 2041.6H856.5" stroke="#5500ff" stroke-width="3.6" stroke-opacity="0.42" fill="none"/>
<path d="M860.3 1990.8V2080.4M850.8 1990.8H869.8M850.8 2080.4H869.8" stroke="#5500ff" stroke-width="3.6" stroke-opacity="0.42" fill="none"/>
<path d="M892.5 1979.4V2076.8M883.0 1979.4H902.0M883.0 2076.8H902.0" stroke="#5500ff" stroke-width="3.6" stroke-opacity="0.42" fill="none"/>
<path d="M923.2 1978.0V2075.5M913.7 1978.0H932.7M913.7 2075.5H932.7" stroke="#5500ff" stroke-width="3.6" stroke-opacity="0.42" fill="none"/>
<path d="M623.4 1865.7V1973.2M613.9 1865.7H632.9M613.9 1973.2H632.9" stroke="#5500ff" stroke-width="3.6" stroke-opacity="0.42" fill="none"/>
<path d="M661.7 1809.3V1923.8M652.2 1809.3H671.2M652.2 1923.8H671.2" stroke="#5500ff" stroke-width="3.6" stroke-opacity="0.42" fill="none"/>
<path d="M1028.3 2088.0V2163.6M1018.8 2088.0H1037.8M1018.8 2163.6H1037.8" stroke="#5500ff" stroke-width="3.6" stroke-opacity="0.42" fill="none"/>
<path d="M1123.0 2106.2V2172.8M1113.5 2106.2H1132.5M1113.5 2172.8H1132.5" stroke="#5500ff" stroke-width="3.6" stroke-opacity="0.42" fill="none"/>
<path d="M1153.0 2134.7V2195.0M1143.5 2134.7H1162.5M1143.5 2195.0H1162.5" stroke="#5500ff" stroke-width="3.6" stroke-opacity="0.42" fill="none"/>
<path d="M1216.7 2169.1V2218.8M1207.2 2169.1H1226.2M1207.2 2218.8H1226.2" stroke="#5500ff" stroke-width="3.6" stroke-opacity="0.42" fill="none"/>
<path d="M1232.4 2190.9V2238.1M1222.9 2190.9H1241.9M1222.9 2238.1H1241.9" stroke="#5500ff" stroke-width="3.6" stroke-opacity="0.42" fill="none"/>
<path d="M1251.8 2192.1V2233.3M1242.3 2192.1H1261.3M1242.3 2233.3H1261.3" stroke="#5500ff" stroke-width="3.6" stroke-opacity="0.42" fill="none"/>
<path d="M1279.7 2218.8V2252.7M1270.2 2218.8H1289.2M1270.2 2252.7H1289.2" stroke="#5500ff" stroke-width="3.6" stroke-opacity="0.42" fill="none"/>
<path d="M1247.9 2199.5V2231.7M1238.4 2199.5H1257.4M1238.4 2231.7H1257.4" stroke="#5500ff" stroke-width="3.6" stroke-opacity="0.42" fill="none"/>
<path d="M371.5 1766.4L396.5 1766.4L384.0 1788.4Z" fill="#5500ff"/>
<path d="M409.0 1787.0L434.0 1787.0L421.5 1809.0Z" fill="#5500ff"/>
<path d="M440.5 1800.3L465.5 1800.3L453.0 1822.3Z" fill="#5500ff"/>
<path d="M301.3 1833.0L326.3 1833.0L313.8 1855.0Z" fill="#5500ff"/>
<path d="M262.1 1875.5L287.1 1875.5L274.6 1897.5Z" fill="#5500ff"/>
<path d="M330.8 1875.5L355.8 1875.5L343.3 1897.5Z" fill="#5500ff"/>
<path d="M508.3 1919.1L533.3 1919.1L520.8 1941.1Z" fill="#5500ff"/>
<path d="M546.6 1909.4L571.6 1909.4L559.1 1931.4Z" fill="#5500ff"/>
<path d="M741.3 1921.0L766.3 1921.0L753.8 1943.0Z" fill="#5500ff"/>
<path d="M746.1 1951.3L771.1 1951.3L758.6 1973.3Z" fill="#5500ff"/>
<path d="M834.5 1984.0L859.5 1984.0L847.0 2006.0Z" fill="#5500ff"/>
<path d="M847.8 2027.6L872.8 2027.6L860.3 2049.6Z" fill="#5500ff"/>
<path d="M880.0 2019.1L905.0 2019.1L892.5 2041.1Z" fill="#5500ff"/>
<path d="M910.7 2019.1L935.7 2019.1L923.2 2041.1Z" fill="#5500ff"/>
<path d="M610.9 1910.3L635.9 1910.3L623.4 1932.3Z" fill="#5500ff"/>
<path d="M649.2 1858.2L674.2 1858.2L661.7 1880.2Z" fill="#5500ff"/>
<path d="M1015.8 2117.5L1040.8 2117.5L1028.3 2139.5Z" fill="#5500ff"/>
<path d="M1110.5 2132.0L1135.5 2132.0L1123.0 2154.0Z" fill="#5500ff"/>
<path d="M1140.5 2157.5L1165.5 2157.5L1153.0 2179.5Z" fill="#5500ff"/>
<path d="M1204.2 2190.2L1229.2 2190.2L1216.7 2212.2Z" fill="#5500ff"/>
<path d="M1219.9 2208.3L1244.9 2208.3L1232.4 2230.3Z" fill="#5500ff"/>
<path d="M1239.3 2203.5L1264.3 2203.5L1251.8 2225.5Z" fill="#5500ff"/>
<path d="M1267.2 2226.5L1292.2 2226.5L1279.7 2248.5Z" fill="#5500ff"/>
<path d="M1235.4 2206.4L1260.4 2206.4L1247.9 2228.4Z" fill="#5500ff"/>
<path d="M338.5 1473.0V1615.9M329.0 1473.0H348.0M329.0 1615.9H348.0" stroke="#0033ff" stroke-width="3.6" stroke-opacity="0.42" fill="none"/>
<path d="M323.5 1566.2V1704.7M314.0 1566.2H333.0M314.0 1704.7H333.0" stroke="#0033ff" stroke-width="3.6" stroke-opacity="0.42" fill="none"/>
<path d="M398.5 1494.8V1631.1M389.0 1494.8H408.0M389.0 1631.1H408.0" stroke="#0033ff" stroke-width="3.6" stroke-opacity="0.42" fill="none"/>
<path d="M397.3 1598.9V1728.5M387.8 1598.9H406.8M387.8 1728.5H406.8" stroke="#0033ff" stroke-width="3.6" stroke-opacity="0.42" fill="none"/>
<path d="M410.2 1651.0V1773.2M400.7 1651.0H419.7M400.7 1773.2H419.7" stroke="#0033ff" stroke-width="3.6" stroke-opacity="0.42" fill="none"/>
<path d="M445.8 1824.2V1934.4M436.3 1824.2H455.3M436.3 1934.4H455.3" stroke="#0033ff" stroke-width="3.6" stroke-opacity="0.42" fill="none"/>
<path d="M513.1 1906.5V2012.6M503.6 1906.5H522.6M503.6 2012.6H522.6" stroke="#0033ff" stroke-width="3.6" stroke-opacity="0.42" fill="none"/>
<path d="M597.1 1985.2V2073.6M587.6 1985.2H606.6M587.6 2073.6H606.6" stroke="#0033ff" stroke-width="3.6" stroke-opacity="0.42" fill="none"/>
<path d="M694.4 2017.9V2106.3M684.9 2017.9H703.9M684.9 2106.3H703.9" stroke="#0033ff" stroke-width="3.6" stroke-opacity="0.42" fill="none"/>
<path d="M807.7 2035.1V2119.9M798.2 2035.1H817.2M798.2 2119.9H817.2" stroke="#0033ff" stroke-width="3.6" stroke-opacity="0.42" fill="none"/>
<path d="M923.2 2075.5V2154.7M913.7 2075.5H932.7M913.7 2154.7H932.7" stroke="#0033ff" stroke-width="3.6" stroke-opacity="0.42" fill="none"/>
<path d="M1056.2 2123.1V2189.7M1046.7 2123.1H1065.7M1046.7 2189.7H1065.7" stroke="#0033ff" stroke-width="3.6" stroke-opacity="0.42" fill="none"/>
<path d="M1162.2 2151.0V2206.2M1152.7 2151.0H1171.7M1152.7 2206.2H1171.7" stroke="#0033ff" stroke-width="3.6" stroke-opacity="0.42" fill="none"/>
<path d="M1222.8 2146.6V2201.8M1213.3 2146.6H1232.3M1213.3 2201.8H1232.3" stroke="#0033ff" stroke-width="3.6" stroke-opacity="0.42" fill="none"/>
<path d="M1261.5 2143.7V2201.8M1252.0 2143.7H1271.0M1252.0 2201.8H1271.0" stroke="#0033ff" stroke-width="3.6" stroke-opacity="0.42" fill="none"/>
<path d="M1279.7 2140.1V2199.4M1270.2 2140.1H1289.2M1270.2 2199.4H1289.2" stroke="#0033ff" stroke-width="3.6" stroke-opacity="0.42" fill="none"/>
<path d="M1297.8 2177.6V2228.5M1288.3 2177.6H1307.3M1288.3 2228.5H1307.3" stroke="#0033ff" stroke-width="3.6" stroke-opacity="0.42" fill="none"/>
<path d="M1280.9 2197.0V2235.7M1271.4 2197.0H1290.4M1271.4 2235.7H1290.4" stroke="#0033ff" stroke-width="3.6" stroke-opacity="0.42" fill="none"/>
<path d="M1290.6 2194.6V2233.3M1281.1 2194.6H1300.1M1281.1 2233.3H1300.1" stroke="#0033ff" stroke-width="3.6" stroke-opacity="0.42" fill="none"/>
<path d="M1286.4 2199.5V2234.2M1276.9 2199.5H1295.9M1276.9 2234.2H1295.9" stroke="#0033ff" stroke-width="3.6" stroke-opacity="0.42" fill="none"/>
<path d="M1292.6 2192.0V2226.8M1283.1 2192.0H1302.1M1283.1 2226.8H1302.1" stroke="#0033ff" stroke-width="3.6" stroke-opacity="0.42" fill="none"/>
<path d="M347.7 1531.9L347.7 1556.9L325.7 1544.4Z" fill="#0033ff"/>
<path d="M332.7 1623.9L332.7 1648.9L310.7 1636.4Z" fill="#0033ff"/>
<path d="M407.8 1550.1L407.8 1575.1L385.8 1562.6Z" fill="#0033ff"/>
<path d="M406.6 1651.3L406.6 1676.3L384.6 1663.8Z" fill="#0033ff"/>
<path d="M419.4 1699.0L419.4 1724.0L397.4 1711.5Z" fill="#0033ff"/>
<path d="M455.0 1867.4L455.0 1892.4L433.0 1879.9Z" fill="#0033ff"/>
<path d="M522.3 1947.3L522.3 1972.3L500.3 1959.8Z" fill="#0033ff"/>
<path d="M606.3 2018.7L606.3 2043.7L584.3 2031.2Z" fill="#0033ff"/>
<path d="M703.7 2049.2L703.7 2074.2L681.7 2061.7Z" fill="#0033ff"/>
<path d="M817.0 2065.5L817.0 2090.5L795.0 2078.0Z" fill="#0033ff"/>
<path d="M932.5 2104.2L932.5 2129.2L910.5 2116.7Z" fill="#0033ff"/>
<path d="M1065.4 2142.8L1065.4 2167.8L1043.4 2155.3Z" fill="#0033ff"/>
<path d="M1171.5 2166.3L1171.5 2191.3L1149.5 2178.8Z" fill="#0033ff"/>
<path d="M1232.0 2162.7L1232.0 2187.7L1210.0 2175.2Z" fill="#0033ff"/>
<path d="M1270.7 2160.3L1270.7 2185.3L1248.7 2172.8Z" fill="#0033ff"/>
<path d="M1288.9 2157.8L1288.9 2182.8L1266.9 2170.3Z" fill="#0033ff"/>
<path d="M1307.1 2191.7L1307.1 2216.7L1285.1 2204.2Z" fill="#0033ff"/>
<path d="M1290.1 2203.8L1290.1 2228.8L1268.1 2216.3Z" fill="#0033ff"/>
<path d="M1299.8 2201.4L1299.8 2226.4L1277.8 2213.9Z" fill="#0033ff"/>
<path d="M1295.6 2204.3L1295.6 2229.3L1273.6 2216.8Z" fill="#0033ff"/>
<path d="M1301.8 2196.9L1301.8 2221.9L1279.8 2209.4Z" fill="#0033ff"/>
</g>
<path d="M205.6 1367.0H1336.5V2283.3H205.6Z" fill="none" stroke="#2b2b2b" stroke-width="4"/>
<path d="M205.6 2283.3v17M205.6 1367.0v17M318.6 2283.3v9M318.6 1367.0v9M431.6 2283.3v17M431.6 1367.0v17M544.6 2283.3v9M544.6 1367.0v9M657.6 2283.3v17M657.6 1367.0v17M770.6 2283.3v9M770.6 1367.0v9M883.6 2283.3v17M883.6 1367.0v17M996.6 2283.3v9M996.6 1367.0v9M1109.6 2283.3v17M1109.6 1367.0v17M1222.6 2283.3v9M1222.6 1367.0v9M1335.6 2283.3v17M1335.6 1367.0v17M205.6 2262.8h-17M1336.5 2262.8h-17M205.6 2163.2h-9M1336.5 2163.2h-9M205.6 2063.7h-17M1336.5 2063.7h-17M205.6 1964.2h-9M1336.5 1964.2h-9M205.6 1864.6h-17M1336.5 1864.6h-17M205.6 1765.1h-9M1336.5 1765.1h-9M205.6 1665.5h-17M1336.5 1665.5h-17M205.6 1566.0h-9M1336.5 1566.0h-9M205.6 1466.4h-17M1336.5 1466.4h-17" stroke="#2b2b2b" stroke-width="3.4" fill="none"/>
<text x="205.6" y="2360.8" font-size="53" text-anchor="middle" fill="#000" textLength="27.1" lengthAdjust="spacingAndGlyphs">0</text>
<text x="431.6" y="2360.8" font-size="53" text-anchor="middle" fill="#000" textLength="54.2" lengthAdjust="spacingAndGlyphs">20</text>
<text x="657.6" y="2360.8" font-size="53" text-anchor="middle" fill="#000" textLength="54.2" lengthAdjust="spacingAndGlyphs">40</text>
<text x="883.6" y="2360.8" font-size="53" text-anchor="middle" fill="#000" textLength="54.2" lengthAdjust="spacingAndGlyphs">60</text>
<text x="1109.6" y="2360.8" font-size="53" text-anchor="middle" fill="#000" textLength="54.2" lengthAdjust="spacingAndGlyphs">80</text>
<text x="1335.6" y="2360.8" font-size="53" text-anchor="middle" fill="#000" textLength="81.3" lengthAdjust="spacingAndGlyphs">100</text>
<text x="174.6" y="2281.3" font-size="53" text-anchor="end" fill="#000" textLength="65.0" lengthAdjust="spacingAndGlyphs">0.0</text>
<text x="174.6" y="2082.2" font-size="53" text-anchor="end" fill="#000" textLength="65.0" lengthAdjust="spacingAndGlyphs">0.1</text>
<text x="174.6" y="1883.1" font-size="53" text-anchor="end" fill="#000" textLength="65.0" lengthAdjust="spacingAndGlyphs">0.2</text>
<text x="174.6" y="1684.0" font-size="53" text-anchor="end" fill="#000" textLength="65.0" lengthAdjust="spacingAndGlyphs">0.3</text>
<text x="174.6" y="1484.9" font-size="53" text-anchor="end" fill="#000" textLength="65.0" lengthAdjust="spacingAndGlyphs">0.4</text>
<text x="492" y="2433" font-size="50.5">Fe concentration,</text>
<text x="907" y="2433" font-size="50.5" font-style="italic">c</text>
<text x="929" y="2448" font-size="33">Fe</text>
<text x="984" y="2433" font-size="50.5">at</text>
<text x="1028" y="2433" font-size="50.5" textLength="27" lengthAdjust="spacingAndGlyphs">%</text>
<g transform="translate(83.5 2113) rotate(-90)"><text x="0" y="0" font-size="50.5">D concentration,</text><text x="389" y="0" font-size="50.5" font-style="italic">c</text><text x="413" y="15" font-size="34">D</text><text x="457" y="0" font-size="50.5" textLength="124" lengthAdjust="spacing">D/Me</text></g>
<path d="M514.6 1434.4L537.4 1434.4L526.0 1414.4Z" fill="#000000"/>
<text x="598.0" y="1445.5" font-size="50.7" text-anchor="start" fill="#000" textLength="163.0" lengthAdjust="spacingAndGlyphs">0.05 Pa</text>
<rect x="517.0" y="1476.4" width="18.1" height="18.1" fill="#1a800c"/>
<text x="598.0" y="1504.9" font-size="50.7" text-anchor="start" fill="#000" textLength="135.0" lengthAdjust="spacingAndGlyphs">0.2 Pa</text>
<path d="M513.2 1544.8L526.0 1532.5L538.8 1544.8L526.0 1557.1Z" fill="#7f6000"/>
<text x="598.0" y="1564.3" font-size="50.7" text-anchor="start" fill="#000" textLength="135.0" lengthAdjust="spacingAndGlyphs">0.5 Pa</text>
<circle cx="526.0" cy="1604.2" r="9.7" fill="#80001a"/>
<text x="598.0" y="1623.7" font-size="50.7" text-anchor="start" fill="#000" textLength="98.0" lengthAdjust="spacingAndGlyphs">2 Pa</text>
<path d="M514.1 1654.8L537.9 1654.8L526.0 1675.7Z" fill="#5500ff"/>
<text x="598.0" y="1683.1" font-size="50.7" text-anchor="start" fill="#000" textLength="124.0" lengthAdjust="spacingAndGlyphs">10 Pa</text>
<path d="M534.8 1711.1L534.8 1734.9L513.9 1723.0Z" fill="#0033ff"/>
<text x="598.0" y="1742.5" font-size="50.7" text-anchor="start" fill="#000" textLength="174.0" lengthAdjust="spacingAndGlyphs">1000 Pa</text>
<path d="M899.2 1831.7V1856.4M894.7 1831.7H903.7M894.7 1856.4H903.7" stroke="#000000" stroke-width="2.2" stroke-opacity="0.3" fill="none"/>
<path d="M900.5 1838.2V1857.7M896.0 1838.2H905.0M896.0 1857.7H905.0" stroke="#000000" stroke-width="2.2" stroke-opacity="0.3" fill="none"/>
<path d="M905.0 1846.0V1860.3M900.5 1846.0H909.5M900.5 1860.3H909.5" stroke="#000000" stroke-width="2.2" stroke-opacity="0.3" fill="none"/>
<path d="M917.8 1848.6V1859.0M913.3 1848.6H922.3M913.3 1859.0H922.3" stroke="#000000" stroke-width="2.2" stroke-opacity="0.3" fill="none"/>
<path d="M922.9 1848.6V1859.0M918.4 1848.6H927.4M918.4 1859.0H927.4" stroke="#000000" stroke-width="2.2" stroke-opacity="0.3" fill="none"/>
<path d="M891.8 1849.5L906.7 1849.5L899.2 1836.5Z" fill="#000000"/>
<path d="M893.1 1854.1L907.9 1854.1L900.5 1841.1Z" fill="#000000"/>
<path d="M897.5 1858.6L912.4 1858.6L905.0 1845.6Z" fill="#000000"/>
<path d="M910.3 1859.3L925.2 1859.3L917.8 1846.3Z" fill="#000000"/>
<path d="M915.5 1859.3L930.3 1859.3L922.9 1846.3Z" fill="#000000"/>
<path d="M933.7 1864.5L948.6 1864.5L941.2 1851.5Z" fill="#000000"/>
<path d="M956.4 1864.5L971.3 1864.5L963.8 1851.5Z" fill="#000000"/>
<path d="M980.7 1864.5L995.6 1864.5L988.1 1851.5Z" fill="#000000"/>
<path d="M999.2 1864.3L1014.1 1864.3L1006.7 1851.2Z" fill="#000000"/>
<path d="M1031.9 1864.5L1046.7 1864.5L1039.3 1851.5Z" fill="#000000"/>
<path d="M1050.8 1864.3L1065.7 1864.3L1058.2 1851.2Z" fill="#000000"/>
<path d="M1097.7 1864.6L1112.6 1864.6L1105.2 1851.6Z" fill="#000000"/>
<path d="M1119.4 1864.6L1134.2 1864.6L1126.8 1851.6Z" fill="#000000"/>
<path d="M1160.3 1864.6L1175.2 1864.6L1167.7 1851.6Z" fill="#000000"/>
<path d="M1185.9 1864.6L1200.8 1864.6L1193.3 1851.6Z" fill="#000000"/>
<path d="M1234.9 1864.6L1249.8 1864.6L1242.3 1851.6Z" fill="#000000"/>
<path d="M1265.6 1864.6L1280.5 1864.6L1273.0 1851.6Z" fill="#000000"/>
<path d="M913.9 1740.1V1783.8M909.4 1740.1H918.4M909.4 1783.8H918.4" stroke="#1a800c" stroke-width="2.2" stroke-opacity="0.6" fill="none"/>
<path d="M925.5 1732.3V1775.9M921.0 1732.3H930.0M921.0 1775.9H930.0" stroke="#1a800c" stroke-width="2.2" stroke-opacity="0.6" fill="none"/>
<path d="M932.7 1768.1V1805.9M928.2 1768.1H937.2M928.2 1805.9H937.2" stroke="#1a800c" stroke-width="2.2" stroke-opacity="0.6" fill="none"/>
<path d="M916.5 1777.9V1815.7M912.0 1777.9H921.0M912.0 1815.7H921.0" stroke="#1a800c" stroke-width="2.2" stroke-opacity="0.6" fill="none"/>
<path d="M937.0 1822.5V1846.7M932.5 1822.5H941.5M932.5 1846.7H941.5" stroke="#1a800c" stroke-width="2.2" stroke-opacity="0.6" fill="none"/>
<path d="M941.2 1816.7V1842.1M936.7 1816.7H945.7M936.7 1842.1H945.7" stroke="#1a800c" stroke-width="2.2" stroke-opacity="0.6" fill="none"/>
<path d="M956.5 1819.0V1842.1M952.0 1819.0H961.0M952.0 1842.1H961.0" stroke="#1a800c" stroke-width="2.2" stroke-opacity="0.6" fill="none"/>
<path d="M967.7 1822.3V1845.7M963.2 1822.3H972.2M963.2 1845.7H972.2" stroke="#1a800c" stroke-width="2.2" stroke-opacity="0.6" fill="none"/>
<path d="M1009.5 1825.1V1849.3M1005.0 1825.1H1014.0M1005.0 1849.3H1014.0" stroke="#1a800c" stroke-width="2.2" stroke-opacity="0.6" fill="none"/>
<path d="M1030.7 1827.1V1850.6M1026.2 1827.1H1035.2M1026.2 1850.6H1035.2" stroke="#1a800c" stroke-width="2.2" stroke-opacity="0.6" fill="none"/>
<path d="M1056.3 1828.4V1850.6M1051.8 1828.4H1060.8M1051.8 1850.6H1060.8" stroke="#1a800c" stroke-width="2.2" stroke-opacity="0.6" fill="none"/>
<path d="M1088.6 1835.6V1854.5M1084.1 1835.6H1093.1M1084.1 1854.5H1093.1" stroke="#1a800c" stroke-width="2.2" stroke-opacity="0.6" fill="none"/>
<rect x="905.9" y="1754.2" width="16.1" height="16.1" fill="#1a800c"/>
<rect x="917.4" y="1745.7" width="16.1" height="16.1" fill="#1a800c"/>
<rect x="924.7" y="1778.9" width="16.1" height="16.1" fill="#1a800c"/>
<rect x="908.4" y="1788.7" width="16.1" height="16.1" fill="#1a800c"/>
<rect x="928.9" y="1826.9" width="16.1" height="16.1" fill="#1a800c"/>
<rect x="933.1" y="1821.0" width="16.1" height="16.1" fill="#1a800c"/>
<rect x="948.5" y="1822.3" width="16.1" height="16.1" fill="#1a800c"/>
<rect x="959.6" y="1825.9" width="16.1" height="16.1" fill="#1a800c"/>
<rect x="1001.4" y="1828.8" width="16.1" height="16.1" fill="#1a800c"/>
<rect x="1022.7" y="1830.4" width="16.1" height="16.1" fill="#1a800c"/>
<rect x="1048.2" y="1831.4" width="16.1" height="16.1" fill="#1a800c"/>
<rect x="1080.5" y="1837.3" width="16.1" height="16.1" fill="#1a800c"/>
<rect x="1135.1" y="1846.5" width="16.1" height="16.1" fill="#1a800c"/>
<rect x="1185.6" y="1851.0" width="16.1" height="16.1" fill="#1a800c"/>
<rect x="1239.1" y="1846.5" width="16.1" height="16.1" fill="#1a800c"/>
<path d="M904.1 1642.0V1714.0M899.6 1642.0H908.6M899.6 1714.0H908.6" stroke="#7f6000" stroke-width="2.2" stroke-opacity="0.6" fill="none"/>
<path d="M898.6 1673.6V1732.3M894.1 1673.6H903.1M894.1 1732.3H903.1" stroke="#7f6000" stroke-width="2.2" stroke-opacity="0.6" fill="none"/>
<path d="M893.9 1682.1V1741.4M889.4 1682.1H898.4M889.4 1741.4H898.4" stroke="#7f6000" stroke-width="2.2" stroke-opacity="0.6" fill="none"/>
<path d="M894.1 1689.9V1742.7M889.6 1689.9H898.6M889.6 1742.7H898.6" stroke="#7f6000" stroke-width="2.2" stroke-opacity="0.6" fill="none"/>
<path d="M895.8 1715.3V1768.8M891.3 1715.3H900.3M891.3 1768.8H900.3" stroke="#7f6000" stroke-width="2.2" stroke-opacity="0.6" fill="none"/>
<path d="M919.4 1686.0V1751.2M914.9 1686.0H923.9M914.9 1751.2H923.9" stroke="#7f6000" stroke-width="2.2" stroke-opacity="0.6" fill="none"/>
<path d="M913.0 1701.6V1758.3M908.5 1701.6H917.5M908.5 1758.3H917.5" stroke="#7f6000" stroke-width="2.2" stroke-opacity="0.6" fill="none"/>
<path d="M934.4 1697.1V1758.3M929.9 1697.1H938.9M929.9 1758.3H938.9" stroke="#7f6000" stroke-width="2.2" stroke-opacity="0.6" fill="none"/>
<path d="M934.8 1702.3V1772.0M930.3 1702.3H939.3M930.3 1772.0H939.3" stroke="#7f6000" stroke-width="2.2" stroke-opacity="0.6" fill="none"/>
<path d="M924.2 1730.3V1781.8M919.7 1730.3H928.7M919.7 1781.8H928.7" stroke="#7f6000" stroke-width="2.2" stroke-opacity="0.6" fill="none"/>
<path d="M933.8 1730.3V1780.5M929.3 1730.3H938.3M929.3 1780.5H938.3" stroke="#7f6000" stroke-width="2.2" stroke-opacity="0.6" fill="none"/>
<path d="M906.6 1751.2V1795.9M902.1 1751.2H911.1M902.1 1795.9H911.1" stroke="#7f6000" stroke-width="2.2" stroke-opacity="0.6" fill="none"/>
<path d="M946.8 1736.2V1793.5M942.3 1736.2H951.3M942.3 1793.5H951.3" stroke="#7f6000" stroke-width="2.2" stroke-opacity="0.6" fill="none"/>
<path d="M1046.1 1766.8V1814.4M1041.6 1766.8H1050.6M1041.6 1814.4H1050.6" stroke="#7f6000" stroke-width="2.2" stroke-opacity="0.6" fill="none"/>
<path d="M1150.5 1812.8V1841.5M1146.0 1812.8H1155.0M1146.0 1841.5H1155.0" stroke="#7f6000" stroke-width="2.2" stroke-opacity="0.6" fill="none"/>
<path d="M1273.4 1833.9V1853.2M1268.9 1833.9H1277.9M1268.9 1853.2H1277.9" stroke="#7f6000" stroke-width="2.2" stroke-opacity="0.6" fill="none"/>
<path d="M892.6 1677.5L904.1 1666.5L915.6 1677.5L904.1 1688.6Z" fill="#7f6000"/>
<path d="M887.1 1702.3L898.6 1691.2L910.1 1702.3L898.6 1713.3Z" fill="#7f6000"/>
<path d="M882.4 1711.4L893.9 1700.4L905.3 1711.4L893.9 1722.5Z" fill="#7f6000"/>
<path d="M882.6 1716.0L894.1 1704.9L905.6 1716.0L894.1 1727.0Z" fill="#7f6000"/>
<path d="M884.3 1742.0L895.8 1731.0L907.3 1742.0L895.8 1753.1Z" fill="#7f6000"/>
<path d="M908.0 1718.6L919.4 1707.5L930.9 1718.6L919.4 1729.6Z" fill="#7f6000"/>
<path d="M901.6 1730.3L913.0 1719.3L924.5 1730.3L913.0 1741.4Z" fill="#7f6000"/>
<path d="M922.9 1728.3L934.4 1717.3L945.9 1728.3L934.4 1739.4Z" fill="#7f6000"/>
<path d="M923.3 1736.8L934.8 1725.8L946.3 1736.8L934.8 1747.9Z" fill="#7f6000"/>
<path d="M912.7 1755.1L924.2 1744.0L935.6 1755.1L924.2 1766.1Z" fill="#7f6000"/>
<path d="M922.3 1755.1L933.8 1744.0L945.2 1755.1L933.8 1766.1Z" fill="#7f6000"/>
<path d="M895.2 1773.3L906.6 1762.3L918.1 1773.3L906.6 1784.4Z" fill="#7f6000"/>
<path d="M935.3 1764.6L946.8 1753.5L958.3 1764.6L946.8 1775.6Z" fill="#7f6000"/>
<path d="M1034.6 1790.9L1046.1 1779.9L1057.6 1790.9L1046.1 1802.0Z" fill="#7f6000"/>
<path d="M1139.0 1826.9L1150.5 1815.9L1161.9 1826.9L1150.5 1838.0Z" fill="#7f6000"/>
<path d="M1261.9 1843.1L1273.4 1832.0L1284.9 1843.1L1273.4 1854.1Z" fill="#7f6000"/>
<path d="M969.3 1655.3V1713.7M964.8 1655.3H973.8M964.8 1713.7H973.8" stroke="#80001a" stroke-width="2.2" stroke-opacity="0.6" fill="none"/>
<path d="M1001.6 1655.3V1714.7M997.1 1655.3H1006.1M997.1 1714.7H1006.1" stroke="#80001a" stroke-width="2.2" stroke-opacity="0.6" fill="none"/>
<path d="M1018.8 1652.7V1712.7M1014.3 1652.7H1023.3M1014.3 1712.7H1023.3" stroke="#80001a" stroke-width="2.2" stroke-opacity="0.6" fill="none"/>
<path d="M947.5 1697.1V1749.9M943.0 1697.1H952.0M943.0 1749.9H952.0" stroke="#80001a" stroke-width="2.2" stroke-opacity="0.6" fill="none"/>
<path d="M1041.9 1714.0V1762.2M1037.4 1714.0H1046.4M1037.4 1762.2H1046.4" stroke="#80001a" stroke-width="2.2" stroke-opacity="0.6" fill="none"/>
<path d="M1065.5 1739.4V1784.1M1061.0 1739.4H1070.0M1061.0 1784.1H1070.0" stroke="#80001a" stroke-width="2.2" stroke-opacity="0.6" fill="none"/>
<path d="M1145.1 1755.1V1794.3M1140.6 1755.1H1149.6M1140.6 1794.3H1149.6" stroke="#80001a" stroke-width="2.2" stroke-opacity="0.6" fill="none"/>
<path d="M1195.9 1775.0V1812.8M1191.4 1775.0H1200.4M1191.4 1812.8H1200.4" stroke="#80001a" stroke-width="2.2" stroke-opacity="0.6" fill="none"/>
<path d="M1257.3 1772.4V1810.9M1252.8 1772.4H1261.8M1252.8 1810.9H1261.8" stroke="#80001a" stroke-width="2.2" stroke-opacity="0.6" fill="none"/>
<circle cx="969.3" cy="1684.4" r="8.7" fill="#80001a"/>
<circle cx="1001.6" cy="1684.4" r="8.7" fill="#80001a"/>
<circle cx="1018.8" cy="1682.7" r="8.7" fill="#80001a"/>
<circle cx="947.5" cy="1723.8" r="8.7" fill="#80001a"/>
<circle cx="1041.9" cy="1737.7" r="8.7" fill="#80001a"/>
<circle cx="1065.5" cy="1761.2" r="8.7" fill="#80001a"/>
<circle cx="1145.1" cy="1774.4" r="8.7" fill="#80001a"/>
<circle cx="1195.9" cy="1793.7" r="8.7" fill="#80001a"/>
<circle cx="1257.3" cy="1791.3" r="8.7" fill="#80001a"/>
<path d="M977.3 1564.7V1628.3M972.8 1564.7H981.8M972.8 1628.3H981.8" stroke="#5500ff" stroke-width="2.2" stroke-opacity="0.6" fill="none"/>
<path d="M997.1 1578.4V1638.5M992.6 1578.4H1001.6M992.6 1638.5H1001.6" stroke="#5500ff" stroke-width="2.2" stroke-opacity="0.6" fill="none"/>
<path d="M1013.7 1586.6V1643.7M1009.2 1586.6H1018.2M1009.2 1643.7H1018.2" stroke="#5500ff" stroke-width="2.2" stroke-opacity="0.6" fill="none"/>
<path d="M940.2 1601.2V1664.8M935.7 1601.2H944.7M935.7 1664.8H944.7" stroke="#5500ff" stroke-width="2.2" stroke-opacity="0.6" fill="none"/>
<path d="M919.4 1624.7V1687.9M914.9 1624.7H923.9M914.9 1687.9H923.9" stroke="#5500ff" stroke-width="2.2" stroke-opacity="0.6" fill="none"/>
<path d="M955.8 1624.7V1687.9M951.3 1624.7H960.3M951.3 1687.9H960.3" stroke="#5500ff" stroke-width="2.2" stroke-opacity="0.6" fill="none"/>
<path d="M1049.5 1653.4V1707.5M1045.0 1653.4H1054.0M1045.0 1707.5H1054.0" stroke="#5500ff" stroke-width="2.2" stroke-opacity="0.6" fill="none"/>
<path d="M1069.8 1647.5V1702.9M1065.3 1647.5H1074.3M1065.3 1702.9H1074.3" stroke="#5500ff" stroke-width="2.2" stroke-opacity="0.6" fill="none"/>
<path d="M1172.6 1668.8V1709.2M1168.1 1668.8H1177.1M1168.1 1709.2H1177.1" stroke="#5500ff" stroke-width="2.2" stroke-opacity="0.6" fill="none"/>
<path d="M1175.2 1672.0V1722.9M1170.7 1672.0H1179.7M1170.7 1722.9H1179.7" stroke="#5500ff" stroke-width="2.2" stroke-opacity="0.6" fill="none"/>
<path d="M1221.8 1687.7V1741.1M1217.3 1687.7H1226.3M1217.3 1741.1H1226.3" stroke="#5500ff" stroke-width="2.2" stroke-opacity="0.6" fill="none"/>
<path d="M1228.9 1713.7V1762.0M1224.4 1713.7H1233.4M1224.4 1762.0H1233.4" stroke="#5500ff" stroke-width="2.2" stroke-opacity="0.6" fill="none"/>
<path d="M1245.9 1707.6V1760.0M1241.4 1707.6H1250.4M1241.4 1760.0H1250.4" stroke="#5500ff" stroke-width="2.2" stroke-opacity="0.6" fill="none"/>
<path d="M1262.1 1706.8V1759.4M1257.6 1706.8H1266.6M1257.6 1759.4H1266.6" stroke="#5500ff" stroke-width="2.2" stroke-opacity="0.6" fill="none"/>
<path d="M1103.8 1646.4V1704.3M1099.3 1646.4H1108.3M1099.3 1704.3H1108.3" stroke="#5500ff" stroke-width="2.2" stroke-opacity="0.6" fill="none"/>
<path d="M1124.0 1616.0V1677.7M1119.5 1616.0H1128.5M1119.5 1677.7H1128.5" stroke="#5500ff" stroke-width="2.2" stroke-opacity="0.6" fill="none"/>
<path d="M966.6 1590.1L987.9 1590.1L977.3 1608.8Z" fill="#5500ff"/>
<path d="M986.5 1601.1L1007.7 1601.1L997.1 1619.8Z" fill="#5500ff"/>
<path d="M1003.1 1608.3L1024.3 1608.3L1013.7 1627.0Z" fill="#5500ff"/>
<path d="M929.5 1625.9L950.8 1625.9L940.2 1644.6Z" fill="#5500ff"/>
<path d="M908.8 1648.8L930.1 1648.8L919.4 1667.5Z" fill="#5500ff"/>
<path d="M945.1 1648.8L966.4 1648.8L955.8 1667.5Z" fill="#5500ff"/>
<path d="M1038.9 1672.3L1060.2 1672.3L1049.5 1691.0Z" fill="#5500ff"/>
<path d="M1059.1 1667.0L1080.4 1667.0L1069.8 1685.7Z" fill="#5500ff"/>
<path d="M1162.0 1673.3L1183.2 1673.3L1172.6 1692.0Z" fill="#5500ff"/>
<path d="M1164.5 1689.6L1185.8 1689.6L1175.2 1708.3Z" fill="#5500ff"/>
<path d="M1211.2 1707.2L1232.5 1707.2L1221.8 1725.9Z" fill="#5500ff"/>
<path d="M1218.3 1730.7L1239.5 1730.7L1228.9 1749.4Z" fill="#5500ff"/>
<path d="M1235.3 1726.1L1256.5 1726.1L1245.9 1744.8Z" fill="#5500ff"/>
<path d="M1251.5 1726.1L1272.8 1726.1L1262.1 1744.8Z" fill="#5500ff"/>
<path d="M1093.1 1667.5L1114.4 1667.5L1103.8 1686.2Z" fill="#5500ff"/>
<path d="M1113.3 1639.5L1134.6 1639.5L1124.0 1658.2Z" fill="#5500ff"/>
<path d="M953.2 1435.0V1511.9M948.7 1435.0H957.7M948.7 1511.9H957.7" stroke="#0033ff" stroke-width="2.2" stroke-opacity="0.6" fill="none"/>
<path d="M945.3 1485.1V1559.7M940.8 1485.1H949.8M940.8 1559.7H949.8" stroke="#0033ff" stroke-width="2.2" stroke-opacity="0.6" fill="none"/>
<path d="M984.9 1446.7V1520.1M980.4 1446.7H989.4M980.4 1520.1H989.4" stroke="#0033ff" stroke-width="2.2" stroke-opacity="0.6" fill="none"/>
<path d="M984.3 1502.7V1572.5M979.8 1502.7H988.8M979.8 1572.5H988.8" stroke="#0033ff" stroke-width="2.2" stroke-opacity="0.6" fill="none"/>
<path d="M991.1 1530.8V1596.6M986.6 1530.8H995.6M986.6 1596.6H995.6" stroke="#0033ff" stroke-width="2.2" stroke-opacity="0.6" fill="none"/>
<path d="M1009.9 1624.1V1683.4M1005.4 1624.1H1014.4M1005.4 1683.4H1014.4" stroke="#0033ff" stroke-width="2.2" stroke-opacity="0.6" fill="none"/>
<path d="M1045.4 1668.4V1725.5M1040.9 1668.4H1049.9M1040.9 1725.5H1049.9" stroke="#0033ff" stroke-width="2.2" stroke-opacity="0.6" fill="none"/>
<path d="M1089.8 1710.7V1758.3M1085.3 1710.7H1094.3M1085.3 1758.3H1094.3" stroke="#0033ff" stroke-width="2.2" stroke-opacity="0.6" fill="none"/>
<path d="M1141.3 1728.3V1775.9M1136.8 1728.3H1145.8M1136.8 1775.9H1145.8" stroke="#0033ff" stroke-width="2.2" stroke-opacity="0.6" fill="none"/>
<path d="M1201.1 1737.6V1783.2M1196.6 1737.6H1205.6M1196.6 1783.2H1205.6" stroke="#0033ff" stroke-width="2.2" stroke-opacity="0.6" fill="none"/>
<path d="M1262.1 1759.4V1802.0M1257.6 1759.4H1266.6M1257.6 1802.0H1266.6" stroke="#0033ff" stroke-width="2.2" stroke-opacity="0.6" fill="none"/>
<path d="M961.1 1462.8L961.1 1484.0L942.4 1473.4Z" fill="#0033ff"/>
<path d="M953.1 1512.3L953.1 1533.6L934.4 1523.0Z" fill="#0033ff"/>
<path d="M992.8 1472.6L992.8 1493.8L974.1 1483.2Z" fill="#0033ff"/>
<path d="M992.2 1527.1L992.2 1548.3L973.5 1537.7Z" fill="#0033ff"/>
<path d="M998.9 1552.7L998.9 1574.0L980.2 1563.4Z" fill="#0033ff"/>
<path d="M1017.7 1643.4L1017.7 1664.7L999.0 1654.0Z" fill="#0033ff"/>
<path d="M1053.3 1686.4L1053.3 1707.7L1034.6 1697.1Z" fill="#0033ff"/>
<path d="M1097.7 1724.9L1097.7 1746.1L1079.0 1735.5Z" fill="#0033ff"/>
<path d="M1149.1 1741.3L1149.1 1762.6L1130.4 1751.9Z" fill="#0033ff"/>
<path d="M1209.0 1750.1L1209.0 1771.3L1190.3 1760.7Z" fill="#0033ff"/>
<path d="M1270.0 1770.9L1270.0 1792.2L1251.3 1781.5Z" fill="#0033ff"/>
<path d="M883.0 1431.4V1870.5H1302.5" fill="none" stroke="#555" stroke-width="2.6"/>
<path d="M883.0 1870.5v8M942.7 1870.5v5M1002.4 1870.5v8M1062.1 1870.5v5M1121.8 1870.5v8M1181.5 1870.5v5M1241.2 1870.5v8M1300.9 1870.5v5M883.0 1860.2h-7M883.0 1833.4h-4M883.0 1806.6h-7M883.0 1779.8h-4M883.0 1753.0h-7M883.0 1726.2h-4M883.0 1699.4h-7M883.0 1672.6h-4M883.0 1645.8h-7M883.0 1619.0h-4M883.0 1592.2h-7M883.0 1565.4h-4M883.0 1538.6h-7M883.0 1511.8h-4M883.0 1485.0h-7M883.0 1458.2h-4M883.0 1431.4h-7" stroke="#555" stroke-width="2" fill="none"/>
<text x="869.0" y="1869.7" font-size="29.5" text-anchor="end" fill="#1a1a1a" textLength="55.0" lengthAdjust="spacingAndGlyphs" stroke="#1a1a1a" stroke-width="0.5">0.00</text>
<text x="869.0" y="1816.1" font-size="29.5" text-anchor="end" fill="#1a1a1a" textLength="55.0" lengthAdjust="spacingAndGlyphs" stroke="#1a1a1a" stroke-width="0.5">0.05</text>
<text x="869.0" y="1762.5" font-size="29.5" text-anchor="end" fill="#1a1a1a" textLength="55.0" lengthAdjust="spacingAndGlyphs" stroke="#1a1a1a" stroke-width="0.5">0.10</text>
<text x="869.0" y="1708.9" font-size="29.5" text-anchor="end" fill="#1a1a1a" textLength="55.0" lengthAdjust="spacingAndGlyphs" stroke="#1a1a1a" stroke-width="0.5">0.15</text>
<text x="869.0" y="1655.3" font-size="29.5" text-anchor="end" fill="#1a1a1a" textLength="55.0" lengthAdjust="spacingAndGlyphs" stroke="#1a1a1a" stroke-width="0.5">0.20</text>
<text x="869.0" y="1601.7" font-size="29.5" text-anchor="end" fill="#1a1a1a" textLength="55.0" lengthAdjust="spacingAndGlyphs" stroke="#1a1a1a" stroke-width="0.5">0.25</text>
<text x="869.0" y="1548.1" font-size="29.5" text-anchor="end" fill="#1a1a1a" textLength="55.0" lengthAdjust="spacingAndGlyphs" stroke="#1a1a1a" stroke-width="0.5">0.30</text>
<text x="869.0" y="1494.5" font-size="29.5" text-anchor="end" fill="#1a1a1a" textLength="55.0" lengthAdjust="spacingAndGlyphs" stroke="#1a1a1a" stroke-width="0.5">0.35</text>
<text x="869.0" y="1440.9" font-size="29.5" text-anchor="end" fill="#1a1a1a" textLength="55.0" lengthAdjust="spacingAndGlyphs" stroke="#1a1a1a" stroke-width="0.5">0.40</text>
<text x="883.0" y="1908.0" font-size="30" text-anchor="middle" fill="#1a1a1a" textLength="16.6" lengthAdjust="spacingAndGlyphs" stroke="#1a1a1a" stroke-width="0.5">0</text>
<text x="1002.4" y="1908.0" font-size="30" text-anchor="middle" fill="#1a1a1a" textLength="33.2" lengthAdjust="spacingAndGlyphs" stroke="#1a1a1a" stroke-width="0.5">20</text>
<text x="1121.8" y="1908.0" font-size="30" text-anchor="middle" fill="#1a1a1a" textLength="33.2" lengthAdjust="spacingAndGlyphs" stroke="#1a1a1a" stroke-width="0.5">40</text>
<text x="1241.2" y="1908.0" font-size="30" text-anchor="middle" fill="#1a1a1a" textLength="33.2" lengthAdjust="spacingAndGlyphs" stroke="#1a1a1a" stroke-width="0.5">60</text>
<text x="997.5" y="1440" font-size="54" font-style="italic">c</text>
<text x="1026.9" y="1453" font-size="36">Fe</text>
<text x="1088.5" y="1440" font-size="54">=</text>
<text x="1140.5" y="1440" font-size="54">30</text>
<text x="1221.0" y="1440" font-size="54">at%</text>
<path d="M1066 1499V1620" stroke="#000" stroke-width="2.4" fill="none"/>
<path d="M1066 1640L1056.5 1593L1066 1607L1075.5 1593Z" fill="#000"/></g>
<g id="diagram-a"><defs><linearGradient id="ga" gradientUnits="userSpaceOnUse" x1="1502" y1="0" x2="1830" y2="0"><stop offset="0.0000" stop-color="#00b050"/><stop offset="0.1951" stop-color="#00b050"/><stop offset="0.6890" stop-color="#ed7d31"/><stop offset="1.0000" stop-color="#ed7d31"/></linearGradient></defs>
<rect x="1502" y="273.4" width="328" height="528.0" fill="url(#ga)"/>
<path d="M1508.2 336.9C1532.2 336.4 1553.0 337.5 1571.3 356.0C1589.5 373.7 1610.4 416.5 1623.5 468.7C1632.6 505.2 1636.5 541.7 1641.7 573.0C1649.5 619.9 1660.0 687.8 1678.2 732.1C1691.3 763.4 1714.7 779.0 1748.6 786.3C1774.7 792.1 1803.4 797.3 1825.6 797.8" fill="none" stroke="#33cccc" stroke-width="10.5"/>
<path d="M1652 218A63.5 322 0 0 1 1652 862" fill="none" stroke="#7f7f7f" stroke-width="5.6" stroke-dasharray="25 24" stroke-dashoffset="20.2"/>
<path d="M1652 218A63.5 322 0 0 0 1652 862" fill="none" stroke="#7f7f7f" stroke-width="5.6" stroke-dasharray="25 24.35" stroke-dashoffset="0"/>
<text x="1535" y="557" font-size="66" fill="#fff">V</text>
<text x="1741" y="557" font-size="66" fill="#fff">Fe</text>
<text x="1405" y="335" font-size="68" fill="#1a9c9c"><tspan font-style="italic">c</tspan><tspan font-size="46" dy="17">D</tspan></text></g>
<g id="diagram-b"><defs><linearGradient id="gb" gradientUnits="userSpaceOnUse" x1="1502" y1="0" x2="1830" y2="0"><stop offset="0.0000" stop-color="#ed7d31"/><stop offset="0.2866" stop-color="#ed7d31"/><stop offset="0.8049" stop-color="#00b050"/><stop offset="1.0000" stop-color="#00b050"/></linearGradient></defs>
<rect x="1502" y="1596" width="328" height="528" fill="url(#gb)"/>
<path d="M1504.8 2117.3C1558.2 2116.8 1615.6 2109.5 1639.1 2086.0C1660.0 2065.1 1671.7 1986.9 1679.5 1932.1C1687.4 1877.3 1688.7 1835.6 1695.2 1788.7C1701.7 1741.7 1709.5 1694.8 1735.6 1673.9C1761.7 1653.0 1793.0 1651.7 1829.5 1651.7" fill="none" stroke="#33cccc" stroke-width="10.5"/>
<path d="M1659 1537.0A64.5 321.5 0 0 1 1659 2180.0" fill="none" stroke="#7f7f7f" stroke-width="5.6" stroke-dasharray="25 24" stroke-dashoffset="20.2"/>
<path d="M1659 1537.0A64.5 321.5 0 0 0 1659 2180.0" fill="none" stroke="#7f7f7f" stroke-width="5.6" stroke-dasharray="25 24.35" stroke-dashoffset="0"/>
<text x="1510" y="1881" font-size="66" fill="#fff">Fe</text>
<text x="1766" y="1881" font-size="66" fill="#fff">V</text>
<text x="1860" y="1677" font-size="68" fill="#1a9c9c"><tspan font-style="italic">c</tspan><tspan font-size="46" dy="17">D</tspan></text></g>
<g font-family='"Liberation Serif", serif'><text x="659.6" y="1258" font-size="92">(</text><text x="691" y="1258" font-size="95" font-weight="bold">a</text><text x="734" y="1258" font-size="92">)</text></g>
<g font-family='"Liberation Serif", serif'><text x="659.6" y="2577.5" font-size="92">(</text><text x="690" y="2577.5" font-size="95" font-weight="bold">b</text><text x="744" y="2577.5" font-size="92">)</text></g>
</svg>
</body></html>
